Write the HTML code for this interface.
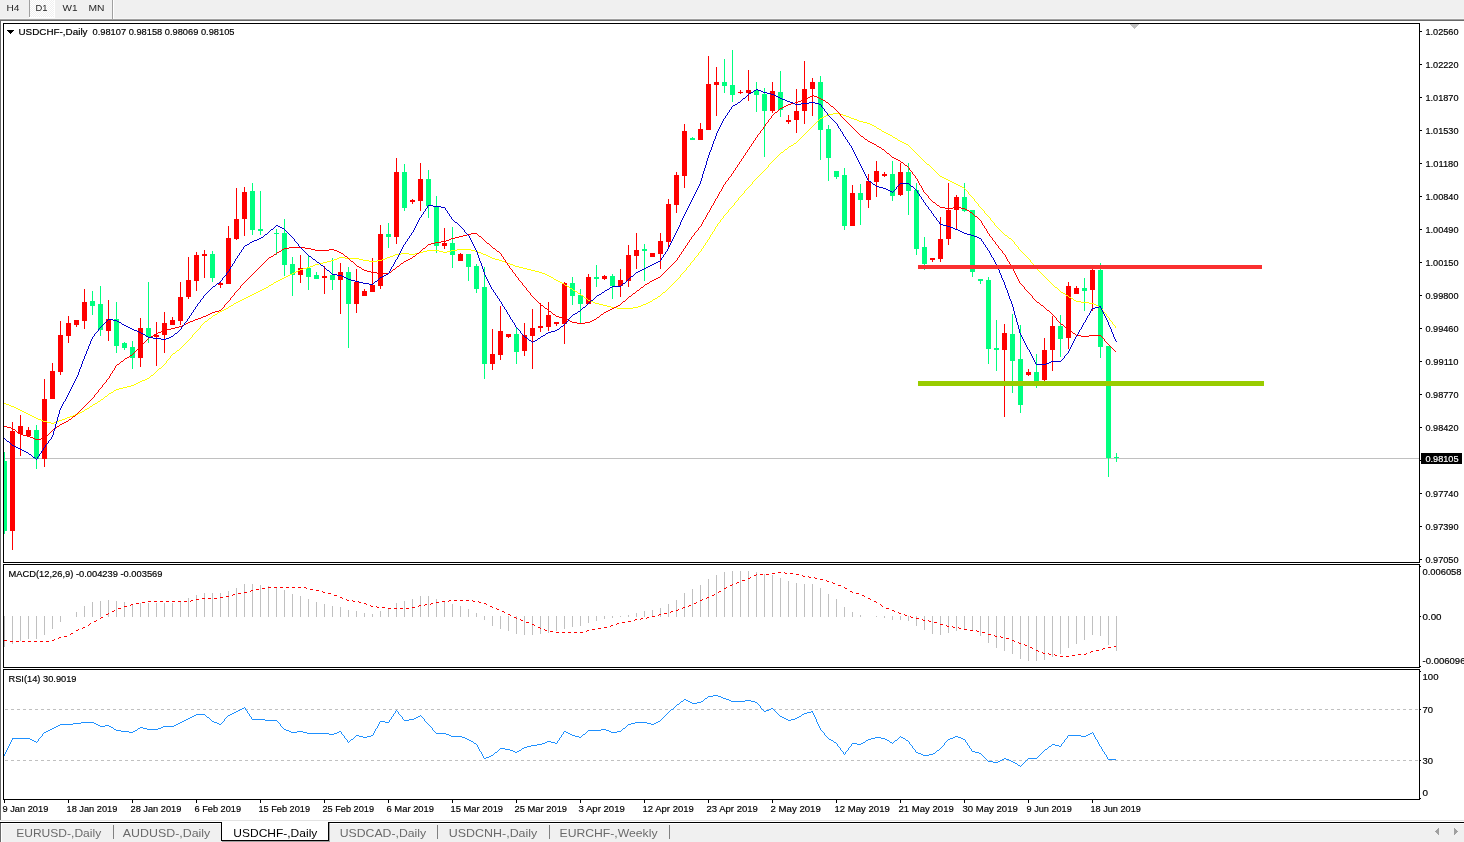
<!DOCTYPE html>
<html lang="en"><head><meta charset="utf-8"><title>USDCHF-,Daily</title>
<style>html,body{margin:0;padding:0;background:#fff;overflow:hidden}body{width:1464px;height:842px}svg{display:block}text{font-family:'Liberation Sans', sans-serif;white-space:pre}</style>
</head><body>
<svg width="1464" height="842" viewBox="0 0 1464 842" shape-rendering="crispEdges">
<rect x="0" y="0" width="1464" height="842" fill="#fff"/>
<g id="toolbar">
<rect x="0" y="0" width="1464" height="19" fill="#f0f0f0"/>
<rect x="0" y="18" width="1464" height="1" fill="#f6f6f6"/>
<rect x="0" y="19" width="1464" height="1" fill="#a0a0a0"/>
<rect x="0" y="20" width="1464" height="1" fill="#696969"/>
<defs><pattern id="chk" width="2" height="2" patternUnits="userSpaceOnUse"><rect width="2" height="2" fill="#f0f0f0"/><rect width="1" height="1" fill="#fff"/><rect x="1" y="1" width="1" height="1" fill="#fff"/></pattern></defs>
<rect x="30" y="0" width="24" height="17" fill="url(#chk)"/>
<rect x="29" y="17" width="26" height="1" fill="#fff"/>
<rect x="54" y="0" width="1" height="18" fill="#fff"/>
<rect x="29" y="0" width="1" height="17" fill="#a0a0a0"/>
<rect x="112" y="0" width="1" height="19" fill="#a0a0a0"/>
<rect x="113" y="0" width="1" height="19" fill="#fff"/>
<text x="6.5" y="11" font-size="9.4" fill="#262626" stroke="#262626" stroke-width="0" textLength="13" lengthAdjust="spacingAndGlyphs">H4</text>
<text x="35.5" y="11" font-size="9.4" fill="#262626" stroke="#262626" stroke-width="0" textLength="12" lengthAdjust="spacingAndGlyphs">D1</text>
<text x="62.5" y="11" font-size="9.4" fill="#262626" stroke="#262626" stroke-width="0" textLength="15" lengthAdjust="spacingAndGlyphs">W1</text>
<text x="88.5" y="11" font-size="9.4" fill="#262626" stroke="#262626" stroke-width="0" textLength="16" lengthAdjust="spacingAndGlyphs">MN</text>
</g>
<g id="frame">
<rect x="0" y="20" width="1" height="800" fill="#696969"/>
</g>
<g id="panes">
<rect x="3" y="23" width="1417" height="1" fill="#000"/>
<rect x="3" y="562" width="1417" height="1" fill="#000"/>
<rect x="3" y="23" width="1" height="540" fill="#000"/>
<rect x="1419" y="23" width="1" height="540" fill="#000"/>
<rect x="3" y="564" width="1417" height="1" fill="#000"/>
<rect x="3" y="667" width="1417" height="1" fill="#000"/>
<rect x="3" y="564" width="1" height="104" fill="#000"/>
<rect x="1419" y="564" width="1" height="104" fill="#000"/>
<rect x="3" y="669" width="1417" height="1" fill="#000"/>
<rect x="3" y="799" width="1417" height="1" fill="#000"/>
<rect x="3" y="669" width="1" height="131" fill="#000"/>
<rect x="1419" y="669" width="1" height="131" fill="#000"/>
</g>
<defs><clipPath id="cm"><rect x="4" y="24" width="1415" height="538"/></clipPath><clipPath id="c2"><rect x="4" y="565" width="1415" height="102"/></clipPath><clipPath id="c3"><rect x="4" y="670" width="1415" height="129"/></clipPath></defs>
<g id="main" clip-path="url(#cm)">
<rect x="4" y="458" width="1415" height="1" fill="#c0c0c0"/>
<polygon points="1129,24 1139,24 1134,29" fill="#c0c0c0"/>
<rect x="4" y="452" width="1" height="82" fill="#00ff7f"/>
<rect x="2" y="461" width="5" height="70" fill="#00ff7f"/>
<rect x="12" y="422" width="1" height="128" fill="#ff0000"/>
<rect x="10" y="431" width="5" height="100" fill="#ff0000"/>
<rect x="20" y="415" width="1" height="41" fill="#ff0000"/>
<rect x="18" y="426" width="5" height="8" fill="#ff0000"/>
<rect x="28" y="427" width="1" height="10" fill="#ff0000"/>
<rect x="26" y="430" width="5" height="6" fill="#ff0000"/>
<rect x="36" y="425" width="1" height="44" fill="#00ff7f"/>
<rect x="34" y="430" width="5" height="29" fill="#00ff7f"/>
<rect x="44" y="379" width="1" height="88" fill="#ff0000"/>
<rect x="42" y="399" width="5" height="60" fill="#ff0000"/>
<rect x="52" y="363" width="1" height="36" fill="#ff0000"/>
<rect x="50" y="371" width="5" height="28" fill="#ff0000"/>
<rect x="60" y="321" width="1" height="54" fill="#ff0000"/>
<rect x="58" y="335" width="5" height="37" fill="#ff0000"/>
<rect x="68" y="316" width="1" height="27" fill="#ff0000"/>
<rect x="66" y="323" width="5" height="13" fill="#ff0000"/>
<rect x="76" y="320" width="1" height="7" fill="#ff0000"/>
<rect x="74" y="320" width="5" height="5" fill="#ff0000"/>
<rect x="84" y="289" width="1" height="40" fill="#ff0000"/>
<rect x="82" y="302" width="5" height="19" fill="#ff0000"/>
<rect x="92" y="291" width="1" height="24" fill="#00ff7f"/>
<rect x="90" y="301" width="5" height="5" fill="#00ff7f"/>
<rect x="100" y="286" width="1" height="50" fill="#00ff7f"/>
<rect x="98" y="304" width="5" height="26" fill="#00ff7f"/>
<rect x="108" y="300" width="1" height="41" fill="#ff0000"/>
<rect x="106" y="319" width="5" height="12" fill="#ff0000"/>
<rect x="116" y="302" width="1" height="51" fill="#00ff7f"/>
<rect x="114" y="319" width="5" height="27" fill="#00ff7f"/>
<rect x="124" y="342" width="1" height="8" fill="#00ff7f"/>
<rect x="122" y="343" width="5" height="5" fill="#00ff7f"/>
<rect x="132" y="341" width="1" height="28" fill="#00ff7f"/>
<rect x="130" y="347" width="5" height="11" fill="#00ff7f"/>
<rect x="140" y="318" width="1" height="49" fill="#ff0000"/>
<rect x="138" y="328" width="5" height="30" fill="#ff0000"/>
<rect x="148" y="282" width="1" height="61" fill="#00ff7f"/>
<rect x="146" y="328" width="5" height="9" fill="#00ff7f"/>
<rect x="156" y="322" width="1" height="44" fill="#ff0000"/>
<rect x="154" y="335" width="5" height="2" fill="#ff0000"/>
<rect x="164" y="312" width="1" height="41" fill="#ff0000"/>
<rect x="162" y="323" width="5" height="12" fill="#ff0000"/>
<rect x="172" y="317" width="1" height="8" fill="#ff0000"/>
<rect x="170" y="320" width="5" height="5" fill="#ff0000"/>
<rect x="180" y="282" width="1" height="43" fill="#ff0000"/>
<rect x="178" y="297" width="5" height="24" fill="#ff0000"/>
<rect x="188" y="257" width="1" height="42" fill="#ff0000"/>
<rect x="186" y="280" width="5" height="17" fill="#ff0000"/>
<rect x="196" y="252" width="1" height="39" fill="#ff0000"/>
<rect x="194" y="255" width="5" height="26" fill="#ff0000"/>
<rect x="204" y="250" width="1" height="28" fill="#ff0000"/>
<rect x="202" y="254" width="5" height="2" fill="#ff0000"/>
<rect x="212" y="251" width="1" height="31" fill="#00ff7f"/>
<rect x="210" y="254" width="5" height="24" fill="#00ff7f"/>
<rect x="220" y="281" width="1" height="7" fill="#ff0000"/>
<rect x="218" y="283" width="5" height="2" fill="#ff0000"/>
<rect x="228" y="226" width="1" height="58" fill="#ff0000"/>
<rect x="226" y="238" width="5" height="46" fill="#ff0000"/>
<rect x="236" y="188" width="1" height="52" fill="#ff0000"/>
<rect x="234" y="219" width="5" height="20" fill="#ff0000"/>
<rect x="244" y="187" width="1" height="49" fill="#ff0000"/>
<rect x="242" y="192" width="5" height="27" fill="#ff0000"/>
<rect x="252" y="183" width="1" height="52" fill="#00ff7f"/>
<rect x="250" y="191" width="5" height="39" fill="#00ff7f"/>
<rect x="260" y="191" width="1" height="44" fill="#00ff7f"/>
<rect x="258" y="229" width="5" height="2" fill="#00ff7f"/>
<rect x="276" y="229" width="1" height="26" fill="#00ff7f"/>
<rect x="274" y="233" width="5" height="1" fill="#00ff7f"/>
<rect x="284" y="219" width="1" height="57" fill="#00ff7f"/>
<rect x="282" y="233" width="5" height="32" fill="#00ff7f"/>
<rect x="292" y="257" width="1" height="39" fill="#00ff7f"/>
<rect x="290" y="264" width="5" height="11" fill="#00ff7f"/>
<rect x="300" y="255" width="1" height="28" fill="#ff0000"/>
<rect x="298" y="268" width="5" height="7" fill="#ff0000"/>
<rect x="308" y="255" width="1" height="35" fill="#00ff7f"/>
<rect x="306" y="268" width="5" height="9" fill="#00ff7f"/>
<rect x="316" y="272" width="1" height="7" fill="#00ff7f"/>
<rect x="314" y="275" width="5" height="4" fill="#00ff7f"/>
<rect x="324" y="266" width="1" height="28" fill="#ff0000"/>
<rect x="322" y="276" width="5" height="2" fill="#ff0000"/>
<rect x="332" y="258" width="1" height="32" fill="#00ff7f"/>
<rect x="330" y="275" width="5" height="5" fill="#00ff7f"/>
<rect x="340" y="263" width="1" height="51" fill="#ff0000"/>
<rect x="338" y="272" width="5" height="8" fill="#ff0000"/>
<rect x="348" y="267" width="1" height="81" fill="#00ff7f"/>
<rect x="346" y="272" width="5" height="32" fill="#00ff7f"/>
<rect x="356" y="269" width="1" height="44" fill="#ff0000"/>
<rect x="354" y="282" width="5" height="22" fill="#ff0000"/>
<rect x="364" y="289" width="1" height="7" fill="#ff0000"/>
<rect x="362" y="291" width="5" height="5" fill="#ff0000"/>
<rect x="372" y="258" width="1" height="34" fill="#ff0000"/>
<rect x="370" y="285" width="5" height="7" fill="#ff0000"/>
<rect x="380" y="225" width="1" height="64" fill="#ff0000"/>
<rect x="378" y="234" width="5" height="52" fill="#ff0000"/>
<rect x="388" y="223" width="1" height="25" fill="#00ff7f"/>
<rect x="386" y="234" width="5" height="3" fill="#00ff7f"/>
<rect x="396" y="158" width="1" height="86" fill="#ff0000"/>
<rect x="394" y="172" width="5" height="65" fill="#ff0000"/>
<rect x="404" y="164" width="1" height="47" fill="#00ff7f"/>
<rect x="402" y="172" width="5" height="36" fill="#00ff7f"/>
<rect x="412" y="199" width="1" height="5" fill="#ff0000"/>
<rect x="410" y="200" width="5" height="2" fill="#ff0000"/>
<rect x="420" y="163" width="1" height="48" fill="#ff0000"/>
<rect x="418" y="179" width="5" height="22" fill="#ff0000"/>
<rect x="428" y="170" width="1" height="48" fill="#00ff7f"/>
<rect x="426" y="179" width="5" height="27" fill="#00ff7f"/>
<rect x="436" y="196" width="1" height="57" fill="#00ff7f"/>
<rect x="434" y="206" width="5" height="40" fill="#00ff7f"/>
<rect x="444" y="228" width="1" height="21" fill="#ff0000"/>
<rect x="442" y="243" width="5" height="3" fill="#ff0000"/>
<rect x="452" y="227" width="1" height="41" fill="#00ff7f"/>
<rect x="450" y="243" width="5" height="12" fill="#00ff7f"/>
<rect x="460" y="253" width="1" height="8" fill="#ff0000"/>
<rect x="458" y="254" width="5" height="7" fill="#ff0000"/>
<rect x="468" y="254" width="1" height="27" fill="#00ff7f"/>
<rect x="466" y="254" width="5" height="13" fill="#00ff7f"/>
<rect x="476" y="264" width="1" height="29" fill="#00ff7f"/>
<rect x="474" y="266" width="5" height="23" fill="#00ff7f"/>
<rect x="484" y="267" width="1" height="112" fill="#00ff7f"/>
<rect x="482" y="287" width="5" height="77" fill="#00ff7f"/>
<rect x="492" y="329" width="1" height="41" fill="#ff0000"/>
<rect x="490" y="354" width="5" height="10" fill="#ff0000"/>
<rect x="500" y="306" width="1" height="54" fill="#ff0000"/>
<rect x="498" y="331" width="5" height="24" fill="#ff0000"/>
<rect x="508" y="334" width="1" height="4" fill="#ff0000"/>
<rect x="506" y="334" width="5" height="3" fill="#ff0000"/>
<rect x="516" y="327" width="1" height="37" fill="#00ff7f"/>
<rect x="514" y="334" width="5" height="18" fill="#00ff7f"/>
<rect x="524" y="323" width="1" height="33" fill="#ff0000"/>
<rect x="522" y="335" width="5" height="16" fill="#ff0000"/>
<rect x="532" y="309" width="1" height="60" fill="#ff0000"/>
<rect x="530" y="328" width="5" height="8" fill="#ff0000"/>
<rect x="540" y="303" width="1" height="29" fill="#ff0000"/>
<rect x="538" y="326" width="5" height="2" fill="#ff0000"/>
<rect x="548" y="302" width="1" height="29" fill="#ff0000"/>
<rect x="546" y="315" width="5" height="12" fill="#ff0000"/>
<rect x="556" y="322" width="1" height="4" fill="#ff0000"/>
<rect x="554" y="322" width="5" height="2" fill="#ff0000"/>
<rect x="564" y="282" width="1" height="62" fill="#ff0000"/>
<rect x="562" y="283" width="5" height="41" fill="#ff0000"/>
<rect x="572" y="277" width="1" height="28" fill="#00ff7f"/>
<rect x="570" y="283" width="5" height="13" fill="#00ff7f"/>
<rect x="580" y="289" width="1" height="34" fill="#00ff7f"/>
<rect x="578" y="295" width="5" height="9" fill="#00ff7f"/>
<rect x="588" y="274" width="1" height="30" fill="#ff0000"/>
<rect x="586" y="277" width="5" height="27" fill="#ff0000"/>
<rect x="596" y="265" width="1" height="22" fill="#00ff7f"/>
<rect x="594" y="277" width="5" height="2" fill="#00ff7f"/>
<rect x="604" y="275" width="1" height="5" fill="#ff0000"/>
<rect x="602" y="276" width="5" height="3" fill="#ff0000"/>
<rect x="612" y="274" width="1" height="25" fill="#00ff7f"/>
<rect x="610" y="276" width="5" height="10" fill="#00ff7f"/>
<rect x="620" y="269" width="1" height="28" fill="#ff0000"/>
<rect x="618" y="280" width="5" height="6" fill="#ff0000"/>
<rect x="628" y="245" width="1" height="42" fill="#ff0000"/>
<rect x="626" y="255" width="5" height="26" fill="#ff0000"/>
<rect x="636" y="233" width="1" height="36" fill="#ff0000"/>
<rect x="634" y="250" width="5" height="6" fill="#ff0000"/>
<rect x="644" y="244" width="1" height="37" fill="#00ff7f"/>
<rect x="642" y="249" width="5" height="2" fill="#00ff7f"/>
<rect x="652" y="253" width="1" height="4" fill="#ff0000"/>
<rect x="650" y="253" width="5" height="4" fill="#ff0000"/>
<rect x="660" y="233" width="1" height="36" fill="#ff0000"/>
<rect x="658" y="241" width="5" height="13" fill="#ff0000"/>
<rect x="668" y="199" width="1" height="48" fill="#ff0000"/>
<rect x="666" y="204" width="5" height="38" fill="#ff0000"/>
<rect x="676" y="172" width="1" height="41" fill="#ff0000"/>
<rect x="674" y="175" width="5" height="30" fill="#ff0000"/>
<rect x="684" y="124" width="1" height="64" fill="#ff0000"/>
<rect x="682" y="131" width="5" height="45" fill="#ff0000"/>
<rect x="692" y="137" width="1" height="3" fill="#00ff7f"/>
<rect x="690" y="138" width="5" height="2" fill="#00ff7f"/>
<rect x="700" y="123" width="1" height="17" fill="#ff0000"/>
<rect x="698" y="129" width="5" height="11" fill="#ff0000"/>
<rect x="708" y="56" width="1" height="74" fill="#ff0000"/>
<rect x="706" y="84" width="5" height="46" fill="#ff0000"/>
<rect x="716" y="67" width="1" height="49" fill="#ff0000"/>
<rect x="714" y="82" width="5" height="3" fill="#ff0000"/>
<rect x="724" y="59" width="1" height="34" fill="#00ff7f"/>
<rect x="722" y="82" width="5" height="4" fill="#00ff7f"/>
<rect x="732" y="50" width="1" height="52" fill="#00ff7f"/>
<rect x="730" y="85" width="5" height="10" fill="#00ff7f"/>
<rect x="740" y="90" width="1" height="4" fill="#ff0000"/>
<rect x="738" y="92" width="5" height="1" fill="#ff0000"/>
<rect x="748" y="70" width="1" height="31" fill="#ff0000"/>
<rect x="746" y="90" width="5" height="3" fill="#ff0000"/>
<rect x="756" y="82" width="1" height="30" fill="#00ff7f"/>
<rect x="754" y="90" width="5" height="5" fill="#00ff7f"/>
<rect x="764" y="88" width="1" height="69" fill="#00ff7f"/>
<rect x="762" y="94" width="5" height="17" fill="#00ff7f"/>
<rect x="772" y="82" width="1" height="31" fill="#ff0000"/>
<rect x="770" y="91" width="5" height="20" fill="#ff0000"/>
<rect x="780" y="71" width="1" height="46" fill="#00ff7f"/>
<rect x="778" y="92" width="5" height="18" fill="#00ff7f"/>
<rect x="788" y="115" width="1" height="9" fill="#ff0000"/>
<rect x="786" y="120" width="5" height="2" fill="#ff0000"/>
<rect x="796" y="89" width="1" height="44" fill="#ff0000"/>
<rect x="794" y="111" width="5" height="9" fill="#ff0000"/>
<rect x="804" y="61" width="1" height="63" fill="#ff0000"/>
<rect x="802" y="89" width="5" height="22" fill="#ff0000"/>
<rect x="812" y="78" width="1" height="38" fill="#ff0000"/>
<rect x="810" y="82" width="5" height="7" fill="#ff0000"/>
<rect x="820" y="76" width="1" height="84" fill="#00ff7f"/>
<rect x="818" y="82" width="5" height="48" fill="#00ff7f"/>
<rect x="828" y="125" width="1" height="56" fill="#00ff7f"/>
<rect x="826" y="129" width="5" height="29" fill="#00ff7f"/>
<rect x="836" y="171" width="1" height="8" fill="#00ff7f"/>
<rect x="834" y="171" width="5" height="6" fill="#00ff7f"/>
<rect x="844" y="168" width="1" height="62" fill="#00ff7f"/>
<rect x="842" y="175" width="5" height="51" fill="#00ff7f"/>
<rect x="852" y="185" width="1" height="41" fill="#ff0000"/>
<rect x="850" y="193" width="5" height="33" fill="#ff0000"/>
<rect x="860" y="184" width="1" height="41" fill="#00ff7f"/>
<rect x="858" y="193" width="5" height="7" fill="#00ff7f"/>
<rect x="868" y="174" width="1" height="34" fill="#ff0000"/>
<rect x="866" y="181" width="5" height="19" fill="#ff0000"/>
<rect x="876" y="161" width="1" height="36" fill="#ff0000"/>
<rect x="874" y="171" width="5" height="11" fill="#ff0000"/>
<rect x="884" y="172" width="1" height="5" fill="#ff0000"/>
<rect x="882" y="174" width="5" height="2" fill="#ff0000"/>
<rect x="892" y="161" width="1" height="40" fill="#00ff7f"/>
<rect x="890" y="174" width="5" height="22" fill="#00ff7f"/>
<rect x="900" y="163" width="1" height="33" fill="#ff0000"/>
<rect x="898" y="172" width="5" height="23" fill="#ff0000"/>
<rect x="908" y="163" width="1" height="52" fill="#00ff7f"/>
<rect x="906" y="172" width="5" height="19" fill="#00ff7f"/>
<rect x="916" y="183" width="1" height="72" fill="#00ff7f"/>
<rect x="914" y="190" width="5" height="59" fill="#00ff7f"/>
<rect x="924" y="237" width="1" height="33" fill="#00ff7f"/>
<rect x="922" y="247" width="5" height="17" fill="#00ff7f"/>
<rect x="932" y="258" width="1" height="4" fill="#ff0000"/>
<rect x="930" y="258" width="5" height="2" fill="#ff0000"/>
<rect x="940" y="217" width="1" height="45" fill="#ff0000"/>
<rect x="938" y="239" width="5" height="20" fill="#ff0000"/>
<rect x="948" y="183" width="1" height="62" fill="#ff0000"/>
<rect x="946" y="210" width="5" height="29" fill="#ff0000"/>
<rect x="956" y="195" width="1" height="34" fill="#ff0000"/>
<rect x="954" y="197" width="5" height="13" fill="#ff0000"/>
<rect x="964" y="183" width="1" height="29" fill="#00ff7f"/>
<rect x="962" y="197" width="5" height="14" fill="#00ff7f"/>
<rect x="972" y="210" width="1" height="67" fill="#00ff7f"/>
<rect x="970" y="210" width="5" height="62" fill="#00ff7f"/>
<rect x="980" y="279" width="1" height="5" fill="#00ff7f"/>
<rect x="978" y="279" width="5" height="2" fill="#00ff7f"/>
<rect x="988" y="277" width="1" height="87" fill="#00ff7f"/>
<rect x="986" y="280" width="5" height="69" fill="#00ff7f"/>
<rect x="996" y="320" width="1" height="51" fill="#00ff7f"/>
<rect x="994" y="348" width="5" height="2" fill="#00ff7f"/>
<rect x="1004" y="324" width="1" height="93" fill="#ff0000"/>
<rect x="1002" y="333" width="5" height="17" fill="#ff0000"/>
<rect x="1012" y="314" width="1" height="79" fill="#00ff7f"/>
<rect x="1010" y="334" width="5" height="27" fill="#00ff7f"/>
<rect x="1020" y="325" width="1" height="88" fill="#00ff7f"/>
<rect x="1018" y="359" width="5" height="46" fill="#00ff7f"/>
<rect x="1028" y="369" width="1" height="7" fill="#ff0000"/>
<rect x="1026" y="372" width="5" height="3" fill="#ff0000"/>
<rect x="1036" y="354" width="1" height="34" fill="#00ff7f"/>
<rect x="1034" y="372" width="5" height="12" fill="#00ff7f"/>
<rect x="1044" y="338" width="1" height="43" fill="#ff0000"/>
<rect x="1042" y="350" width="5" height="30" fill="#ff0000"/>
<rect x="1052" y="316" width="1" height="55" fill="#ff0000"/>
<rect x="1050" y="326" width="5" height="24" fill="#ff0000"/>
<rect x="1060" y="315" width="1" height="42" fill="#00ff7f"/>
<rect x="1058" y="326" width="5" height="13" fill="#00ff7f"/>
<rect x="1068" y="282" width="1" height="67" fill="#ff0000"/>
<rect x="1066" y="286" width="5" height="52" fill="#ff0000"/>
<rect x="1076" y="286" width="1" height="8" fill="#ff0000"/>
<rect x="1074" y="288" width="5" height="6" fill="#ff0000"/>
<rect x="1084" y="278" width="1" height="33" fill="#00ff7f"/>
<rect x="1082" y="288" width="5" height="3" fill="#00ff7f"/>
<rect x="1092" y="266" width="1" height="45" fill="#ff0000"/>
<rect x="1090" y="270" width="5" height="20" fill="#ff0000"/>
<rect x="1100" y="263" width="1" height="95" fill="#00ff7f"/>
<rect x="1098" y="270" width="5" height="77" fill="#00ff7f"/>
<rect x="1108" y="346" width="1" height="131" fill="#00ff7f"/>
<rect x="1106" y="346" width="5" height="112" fill="#00ff7f"/>
<rect x="1116" y="453" width="1" height="9" fill="#00ff7f"/>
<rect x="1114" y="457" width="5" height="1" fill="#00ff7f"/>
<path d="M833 113.5h6M828 114.5h5M839 114.5h4M826 115.5h2M843 115.5h3M824 116.5h2M846 116.5h3M822 117.5h2M849 117.5h2M820 118.5h2M851 118.5h3M854 119.5h3M857 120.5h2M859 121.5h4M863 122.5h4M867 123.5h3M870 124.5h2M872 125.5h2M874 126.5h2M877 128.5h2M879 129.5h2M882 131.5h2M884 132.5h2M886 133.5h2M888 134.5h2M890 135.5h2M893 137.5h2M895 138.5h2M898 140.5h2M900 141.5h2M902 142.5h2M794 143.5h2M904 143.5h2M906 144.5h2M791 145.5h2M789 146.5h2M785 149.5h2M781 152.5h2M927 164.5h2M940 176.5h2M942 177.5h2M944 178.5h2M946 179.5h2M948 180.5h2M950 181.5h2M952 182.5h2M954 183.5h2M956 184.5h2M958 185.5h2M960 186.5h2M962 187.5h2M1005 235.5h2M1009 238.5h2M457 249.5h14M427 250.5h12M451 250.5h6M471 250.5h4M423 251.5h4M439 251.5h4M447 251.5h4M475 251.5h3M419 252.5h4M443 252.5h4M478 252.5h3M401 253.5h8M415 253.5h4M481 253.5h2M395 254.5h6M409 254.5h6M483 254.5h3M393 255.5h2M486 255.5h2M390 256.5h3M488 256.5h2M339 257.5h6M387 257.5h3M490 257.5h2M337 258.5h2M345 258.5h14M385 258.5h2M492 258.5h3M334 259.5h3M359 259.5h4M382 259.5h3M495 259.5h4M331 260.5h3M363 260.5h6M377 260.5h5M499 260.5h3M327 261.5h4M369 261.5h8M502 261.5h3M323 262.5h4M505 262.5h2M319 263.5h4M507 263.5h3M315 264.5h4M510 264.5h3M313 265.5h2M513 265.5h2M310 266.5h3M515 266.5h4M307 267.5h3M519 267.5h4M303 268.5h4M523 268.5h4M300 269.5h3M527 269.5h4M298 270.5h2M531 270.5h4M296 271.5h2M535 271.5h4M294 272.5h2M539 272.5h3M292 273.5h2M542 273.5h3M290 274.5h2M545 274.5h2M288 275.5h2M547 275.5h2M286 276.5h2M549 276.5h2M284 277.5h2M551 277.5h2M282 278.5h2M280 279.5h2M554 279.5h2M278 280.5h2M556 280.5h2M276 281.5h2M558 281.5h2M274 282.5h2M560 282.5h2M562 283.5h2M271 284.5h2M269 285.5h2M565 285.5h2M567 286.5h2M266 287.5h2M1055 287.5h2M264 288.5h2M570 288.5h2M262 289.5h2M260 290.5h2M573 290.5h2M258 291.5h2M575 291.5h2M256 292.5h2M663 292.5h2M1061 292.5h2M254 293.5h2M578 293.5h2M1063 293.5h2M252 294.5h2M250 295.5h2M581 295.5h2M1066 295.5h2M248 296.5h2M658 296.5h2M246 297.5h2M1069 297.5h2M244 298.5h2M585 298.5h2M655 298.5h2M1071 298.5h2M242 299.5h2M653 299.5h2M240 300.5h2M588 300.5h2M1074 300.5h2M238 301.5h2M590 301.5h3M650 301.5h2M1076 301.5h5M236 302.5h2M593 302.5h2M648 302.5h2M1081 302.5h8M234 303.5h2M595 303.5h4M646 303.5h2M1089 303.5h5M599 304.5h4M643 304.5h3M1094 304.5h2M231 305.5h2M603 305.5h4M641 305.5h2M1096 305.5h2M229 306.5h2M607 306.5h4M638 306.5h3M1098 306.5h2M611 307.5h6M633 307.5h5M226 308.5h2M617 308.5h16M224 309.5h2M222 310.5h2M220 311.5h2M218 312.5h2M215 314.5h2M213 315.5h2M209 318.5h2M205 321.5h2M177 350.5h2M173 353.5h2M159 368.5h2M151 375.5h2M147 378.5h2M145 379.5h2M142 380.5h3M140 381.5h2M138 382.5h2M136 383.5h2M134 384.5h2M131 385.5h3M127 386.5h4M123 387.5h4M119 388.5h4M116 389.5h3M114 390.5h2M111 392.5h2M109 393.5h2M105 396.5h2M101 399.5h2M98 401.5h2M4 403.5h2M95 403.5h2M6 404.5h3M93 404.5h2M9 405.5h2M11 406.5h3M90 406.5h2M14 407.5h2M16 408.5h2M87 408.5h2M18 409.5h2M85 409.5h2M20 410.5h2M22 411.5h2M82 411.5h2M24 412.5h2M80 412.5h2M26 413.5h2M78 413.5h2M28 414.5h2M75 414.5h3M30 415.5h2M73 415.5h2M32 416.5h2M70 416.5h3M34 417.5h2M67 417.5h3M36 418.5h2M65 418.5h2M38 419.5h3M62 419.5h3M41 420.5h2M59 420.5h3M43 421.5h4M57 421.5h2M47 422.5h4M54 422.5h3M51 423.5h3M84.5 410v1M89.5 407v1M92.5 405v1M97.5 402v1M100.5 400v1M103.5 398v1M104.5 397v1M107.5 395v1M108.5 394v1M113.5 391v1M149.5 377v1M150.5 376v1M153.5 374v1M154.5 373v1M155.5 372v1M156.5 371v1M157.5 370v1M158.5 369v1M161.5 367v1M162.5 366v1M163.5 365v1M164.5 364v1M165.5 363v1M166.5 361v2M167.5 360v1M168.5 359v1M169.5 358v1M170.5 356v2M171.5 355v1M172.5 354v1M175.5 352v1M176.5 351v1M179.5 349v1M180.5 348v1M181.5 347v1M182.5 346v1M183.5 345v1M184.5 344v1M185.5 343v1M186.5 342v1M187.5 341v1M188.5 340v1M189.5 339v1M190.5 338v1M191.5 337v1M192.5 335v2M193.5 334v1M194.5 333v1M195.5 332v1M196.5 331v1M197.5 330v1M198.5 329v1M199.5 328v1M200.5 326v2M201.5 325v1M202.5 324v1M203.5 323v1M204.5 322v1M207.5 320v1M208.5 319v1M211.5 317v1M212.5 316v1M217.5 313v1M228.5 307v1M233.5 304v1M268.5 286v1M273.5 283v1M553.5 278v1M564.5 284v1M569.5 287v1M572.5 289v1M577.5 292v1M580.5 294v1M583.5 296v1M584.5 297v1M587.5 299v1M652.5 300v1M657.5 297v1M660.5 295v1M661.5 294v1M662.5 293v1M665.5 291v1M666.5 290v1M667.5 289v1M668.5 288v1M669.5 287v1M670.5 286v1M671.5 285v1M672.5 284v1M673.5 283v1M674.5 282v1M675.5 281v1M676.5 280v1M677.5 279v1M678.5 278v1M679.5 277v1M680.5 275v2M681.5 274v1M682.5 273v1M683.5 272v1M684.5 271v1M685.5 270v1M686.5 268v2M687.5 267v1M688.5 266v1M689.5 265v1M690.5 263v2M691.5 262v1M692.5 261v1M693.5 260v1M694.5 258v2M695.5 257v1M696.5 256v1M697.5 255v1M698.5 253v2M699.5 252v1M700.5 251v1M701.5 249v2M702.5 248v1M703.5 246v2M704.5 245v1M705.5 243v2M706.5 242v1M707.5 240v2M708.5 239v1M709.5 237v2M710.5 235v2M711.5 234v1M712.5 232v2M713.5 231v1M714.5 229v2M715.5 227v2M716.5 226v1M717.5 224v2M718.5 223v1M719.5 222v1M720.5 220v2M721.5 219v1M722.5 218v1M723.5 216v2M724.5 215v1M725.5 214v1M726.5 213v1M727.5 212v1M728.5 210v2M729.5 209v1M730.5 208v1M731.5 207v1M732.5 206v1M733.5 205v1M734.5 203v2M735.5 202v1M736.5 201v1M737.5 200v1M738.5 198v2M739.5 197v1M740.5 196v1M741.5 195v1M742.5 194v1M743.5 193v1M744.5 191v2M745.5 190v1M746.5 189v1M747.5 188v1M748.5 187v1M749.5 186v1M750.5 185v1M751.5 184v1M752.5 182v2M753.5 181v1M754.5 180v1M755.5 179v1M756.5 178v1M757.5 177v1M758.5 176v1M759.5 175v1M760.5 174v1M761.5 173v1M762.5 172v1M763.5 171v1M764.5 170v1M765.5 169v1M766.5 168v1M767.5 167v1M768.5 165v2M769.5 164v1M770.5 163v1M771.5 162v1M772.5 161v1M773.5 160v1M774.5 159v1M775.5 158v1M776.5 157v1M777.5 156v1M778.5 155v1M779.5 154v1M780.5 153v1M783.5 151v1M784.5 150v1M787.5 148v1M788.5 147v1M793.5 144v1M796.5 142v1M797.5 141v1M798.5 140v1M799.5 139v1M800.5 138v1M801.5 137v1M802.5 136v1M803.5 135v1M804.5 134v1M805.5 133v1M806.5 132v1M807.5 131v1M808.5 130v1M809.5 129v1M810.5 128v1M811.5 127v1M812.5 126v1M813.5 125v1M814.5 124v1M815.5 123v1M816.5 122v1M817.5 121v1M818.5 120v1M819.5 119v1M876.5 127v1M881.5 130v1M892.5 136v1M897.5 139v1M908.5 145v1M909.5 146v1M910.5 147v1M911.5 148v1M912.5 149v1M913.5 150v1M914.5 151v1M915.5 152v1M916.5 153v1M917.5 154v1M918.5 155v1M919.5 156v1M920.5 157v1M921.5 158v1M922.5 159v1M923.5 160v1M924.5 161v1M925.5 162v1M926.5 163v1M929.5 165v1M930.5 166v1M931.5 167v1M932.5 168v1M933.5 169v1M934.5 170v1M935.5 171v1M936.5 172v1M937.5 173v1M938.5 174v1M939.5 175v1M964.5 188v1M965.5 189v1M966.5 190v1M967.5 191v1M968.5 192v2M969.5 194v1M970.5 195v1M971.5 196v1M972.5 197v1M973.5 198v1M974.5 199v2M975.5 201v1M976.5 202v1M977.5 203v1M978.5 204v2M979.5 206v1M980.5 207v1M981.5 208v1M982.5 209v1M983.5 210v1M984.5 211v2M985.5 213v1M986.5 214v1M987.5 215v1M988.5 216v1M989.5 217v1M990.5 218v2M991.5 220v1M992.5 221v1M993.5 222v1M994.5 223v2M995.5 225v1M996.5 226v1M997.5 227v1M998.5 228v1M999.5 229v1M1000.5 230v1M1001.5 231v1M1002.5 232v1M1003.5 233v1M1004.5 234v1M1007.5 236v1M1008.5 237v1M1011.5 239v1M1012.5 240v1M1013.5 241v1M1014.5 242v2M1015.5 244v1M1016.5 245v1M1017.5 246v1M1018.5 247v2M1019.5 249v1M1020.5 250v1M1021.5 251v1M1022.5 252v1M1023.5 253v1M1024.5 254v1M1025.5 255v1M1026.5 256v1M1027.5 257v1M1028.5 258v1M1029.5 259v1M1030.5 260v2M1031.5 262v1M1032.5 263v1M1033.5 264v1M1034.5 265v2M1035.5 267v1M1036.5 268v1M1037.5 269v1M1038.5 270v1M1039.5 271v1M1040.5 272v1M1041.5 273v1M1042.5 274v1M1043.5 275v1M1044.5 276v1M1045.5 277v1M1046.5 278v1M1047.5 279v1M1048.5 280v1M1049.5 281v1M1050.5 282v1M1051.5 283v1M1052.5 284v1M1053.5 285v1M1054.5 286v1M1057.5 288v1M1058.5 289v1M1059.5 290v1M1060.5 291v1M1065.5 294v1M1068.5 296v1M1073.5 299v1M1100.5 307v1M1101.5 308v1M1102.5 309v2M1103.5 311v1M1104.5 312v1M1105.5 313v1M1106.5 314v2M1107.5 316v1M1108.5 317v1M1109.5 318v2M1110.5 320v1M1111.5 321v1M1112.5 322v2M1113.5 324v1M1114.5 325v1M1115.5 326v2" fill="none" stroke="#ffff00" stroke-width="1"/>
<path d="M812 95.5h2M810 96.5h2M814 96.5h3M808 97.5h2M817 97.5h2M806 98.5h2M819 98.5h2M803 99.5h3M821 99.5h2M801 100.5h2M823 100.5h2M798 101.5h3M795 102.5h3M826 102.5h2M791 103.5h4M788 104.5h3M786 105.5h2M784 106.5h2M831 106.5h2M782 107.5h2M780 108.5h2M775 112.5h2M861 136.5h2M865 139.5h2M868 141.5h2M870 142.5h2M872 143.5h2M874 144.5h2M877 146.5h2M879 147.5h2M882 149.5h2M887 153.5h2M892 157.5h2M894 158.5h2M896 159.5h2M898 160.5h2M901 162.5h2M905 165.5h2M933 202.5h2M937 205.5h2M940 207.5h5M953 207.5h8M945 208.5h8M961 208.5h4M965 209.5h2M967 210.5h2M970 212.5h2M975 216.5h2M471 233.5h6M467 234.5h4M463 235.5h4M459 236.5h4M479 236.5h2M455 237.5h4M451 238.5h4M449 239.5h2M446 240.5h3M441 241.5h5M435 242.5h6M431 243.5h4M487 243.5h2M428 244.5h3M289 247.5h16M284 248.5h5M305 248.5h6M423 248.5h2M493 248.5h2M282 249.5h2M311 249.5h4M329 249.5h5M315 250.5h14M334 250.5h3M279 251.5h2M337 251.5h2M497 251.5h2M277 252.5h2M339 252.5h2M341 253.5h2M417 253.5h2M274 254.5h2M271 256.5h2M345 256.5h2M413 256.5h2M269 257.5h2M410 258.5h2M408 259.5h2M406 260.5h2M351 261.5h2M404 261.5h2M401 263.5h2M357 266.5h2M397 266.5h2M359 267.5h2M362 269.5h2M393 269.5h2M364 270.5h3M367 271.5h4M371 272.5h6M389 272.5h2M377 273.5h12M658 277.5h2M656 278.5h2M654 279.5h2M652 280.5h2M650 281.5h2M647 283.5h2M645 284.5h2M641 287.5h2M637 290.5h2M633 293.5h2M629 296.5h2M623 301.5h2M1037 302.5h2M541 305.5h2M618 305.5h2M1041 305.5h2M616 306.5h2M614 307.5h2M545 308.5h2M612 308.5h2M610 309.5h2M219 310.5h2M608 310.5h2M1047 310.5h2M215 311.5h4M549 311.5h2M606 311.5h2M212 312.5h3M604 312.5h2M210 313.5h2M208 314.5h2M553 314.5h2M601 314.5h2M206 315.5h2M203 316.5h3M556 316.5h3M201 317.5h2M559 317.5h4M597 317.5h2M198 318.5h3M563 318.5h3M195 319.5h3M566 319.5h2M594 319.5h2M193 320.5h2M568 320.5h2M592 320.5h2M190 321.5h3M570 321.5h2M590 321.5h2M188 322.5h2M572 322.5h5M585 322.5h5M186 323.5h2M577 323.5h8M184 324.5h2M1061 324.5h2M182 325.5h2M179 326.5h3M175 327.5h4M1065 327.5h2M171 328.5h4M167 329.5h4M163 330.5h4M1069 330.5h2M161 331.5h2M158 332.5h3M156 333.5h2M1073 333.5h2M154 334.5h2M1076 335.5h5M1089 335.5h12M151 336.5h2M1081 336.5h8M149 337.5h2M130 355.5h2M127 357.5h2M125 358.5h2M121 361.5h2M117 364.5h2M73 416.5h2M69 419.5h2M66 421.5h2M64 422.5h2M62 423.5h2M60 424.5h2M4 426.5h3M57 426.5h2M7 427.5h4M11 428.5h2M13 429.5h2M53 429.5h2M17 432.5h2M20 434.5h3M23 435.5h4M27 436.5h3M30 437.5h3M33 438.5h2M41 438.5h4M35 439.5h6M15.5 430v1M16.5 431v1M19.5 433v1M45.5 437v1M46.5 436v1M47.5 435v1M48.5 434v1M49.5 433v1M50.5 432v1M51.5 431v1M52.5 430v1M55.5 428v1M56.5 427v1M59.5 425v1M68.5 420v1M71.5 418v1M72.5 417v1M75.5 415v1M76.5 414v1M77.5 413v1M78.5 412v1M79.5 411v1M80.5 410v1M81.5 409v1M82.5 408v1M83.5 407v1M84.5 406v1M85.5 405v1M86.5 404v1M87.5 403v1M88.5 402v1M89.5 401v1M90.5 400v1M91.5 399v1M92.5 398v1M93.5 397v1M94.5 395v2M95.5 394v1M96.5 393v1M97.5 392v1M98.5 390v2M99.5 389v1M100.5 388v1M101.5 387v1M102.5 385v2M103.5 384v1M104.5 383v1M105.5 382v1M106.5 380v2M107.5 379v1M108.5 378v1M109.5 376v2M110.5 374v2M111.5 373v1M112.5 371v2M113.5 370v1M114.5 368v2M115.5 366v2M116.5 365v1M119.5 363v1M120.5 362v1M123.5 360v1M124.5 359v1M129.5 356v1M132.5 354v1M133.5 353v1M134.5 352v1M135.5 351v1M136.5 350v1M137.5 349v1M138.5 348v1M139.5 347v1M140.5 346v1M141.5 345v1M142.5 344v1M143.5 343v1M144.5 342v1M145.5 341v1M146.5 340v1M147.5 339v1M148.5 338v1M153.5 335v1M221.5 309v1M222.5 308v1M223.5 307v1M224.5 305v2M225.5 304v1M226.5 303v1M227.5 302v1M228.5 301v1M229.5 300v1M230.5 298v2M231.5 297v1M232.5 296v1M233.5 295v1M234.5 293v2M235.5 292v1M236.5 291v1M237.5 290v1M238.5 289v1M239.5 288v1M240.5 286v2M241.5 285v1M242.5 284v1M243.5 283v1M244.5 282v1M245.5 281v1M246.5 280v1M247.5 279v1M248.5 278v1M249.5 277v1M250.5 276v1M251.5 275v1M252.5 274v1M253.5 273v1M254.5 272v1M255.5 271v1M256.5 270v1M257.5 269v1M258.5 268v1M259.5 267v1M260.5 266v1M261.5 265v1M262.5 264v1M263.5 263v1M264.5 262v1M265.5 261v1M266.5 260v1M267.5 259v1M268.5 258v1M273.5 255v1M276.5 253v1M281.5 250v1M343.5 254v1M344.5 255v1M347.5 257v1M348.5 258v1M349.5 259v1M350.5 260v1M353.5 262v1M354.5 263v1M355.5 264v1M356.5 265v1M361.5 268v1M391.5 271v1M392.5 270v1M395.5 268v1M396.5 267v1M399.5 265v1M400.5 264v1M403.5 262v1M412.5 257v1M415.5 255v1M416.5 254v1M419.5 252v1M420.5 251v1M421.5 250v1M422.5 249v1M425.5 247v1M426.5 246v1M427.5 245v1M477.5 234v1M478.5 235v1M481.5 237v1M482.5 238v1M483.5 239v1M484.5 240v1M485.5 241v1M486.5 242v1M489.5 244v1M490.5 245v1M491.5 246v1M492.5 247v1M495.5 249v1M496.5 250v1M499.5 252v1M500.5 253v1M501.5 254v2M502.5 256v1M503.5 257v2M504.5 259v1M505.5 260v2M506.5 262v1M507.5 263v2M508.5 265v1M509.5 266v2M510.5 268v1M511.5 269v1M512.5 270v2M513.5 272v1M514.5 273v1M515.5 274v2M516.5 276v1M517.5 277v1M518.5 278v2M519.5 280v1M520.5 281v1M521.5 282v1M522.5 283v2M523.5 285v1M524.5 286v1M525.5 287v1M526.5 288v2M527.5 290v1M528.5 291v1M529.5 292v1M530.5 293v2M531.5 295v1M532.5 296v1M533.5 297v1M534.5 298v1M535.5 299v1M536.5 300v1M537.5 301v1M538.5 302v1M539.5 303v1M540.5 304v1M543.5 306v1M544.5 307v1M547.5 309v1M548.5 310v1M551.5 312v1M552.5 313v1M555.5 315v1M596.5 318v1M599.5 316v1M600.5 315v1M603.5 313v1M620.5 304v1M621.5 303v1M622.5 302v1M625.5 300v1M626.5 299v1M627.5 298v1M628.5 297v1M631.5 295v1M632.5 294v1M635.5 292v1M636.5 291v1M639.5 289v1M640.5 288v1M643.5 286v1M644.5 285v1M649.5 282v1M660.5 276v1M661.5 275v1M662.5 274v1M663.5 273v1M664.5 272v1M665.5 271v1M666.5 270v1M667.5 269v1M668.5 268v1M669.5 267v1M670.5 266v1M671.5 265v1M672.5 264v1M673.5 263v1M674.5 262v1M675.5 261v1M676.5 260v1M677.5 258v2M678.5 257v1M679.5 255v2M680.5 254v1M681.5 252v2M682.5 251v1M683.5 249v2M684.5 248v1M685.5 246v2M686.5 245v1M687.5 243v2M688.5 242v1M689.5 240v2M690.5 239v1M691.5 237v2M692.5 236v1M693.5 235v1M694.5 233v2M695.5 232v1M696.5 231v1M697.5 230v1M698.5 228v2M699.5 227v1M700.5 226v1M701.5 224v2M702.5 222v2M703.5 220v2M704.5 219v1M705.5 217v2M706.5 215v2M707.5 213v2M708.5 212v1M709.5 210v2M710.5 208v2M711.5 206v2M712.5 205v1M713.5 203v2M714.5 201v2M715.5 199v2M716.5 198v1M717.5 196v2M718.5 194v2M719.5 192v2M720.5 191v1M721.5 189v2M722.5 187v2M723.5 185v2M724.5 184v1M725.5 182v2M726.5 181v1M727.5 180v1M728.5 178v2M729.5 177v1M730.5 176v1M731.5 174v2M732.5 173v1M733.5 171v2M734.5 170v1M735.5 168v2M736.5 167v1M737.5 165v2M738.5 164v1M739.5 162v2M740.5 161v1M741.5 159v2M742.5 158v1M743.5 156v2M744.5 155v1M745.5 153v2M746.5 152v1M747.5 150v2M748.5 149v1M749.5 147v2M750.5 146v1M751.5 144v2M752.5 143v1M753.5 141v2M754.5 140v1M755.5 138v2M756.5 137v1M757.5 135v2M758.5 134v1M759.5 133v1M760.5 131v2M761.5 130v1M762.5 129v1M763.5 127v2M764.5 126v1M765.5 124v2M766.5 123v1M767.5 122v1M768.5 120v2M769.5 119v1M770.5 118v1M771.5 116v2M772.5 115v1M773.5 114v1M774.5 113v1M777.5 111v1M778.5 110v1M779.5 109v1M825.5 101v1M828.5 103v1M829.5 104v1M830.5 105v1M833.5 107v1M834.5 108v1M835.5 109v1M836.5 110v1M837.5 111v1M838.5 112v1M839.5 113v1M840.5 114v2M841.5 116v1M842.5 117v1M843.5 118v1M844.5 119v1M845.5 120v1M846.5 121v1M847.5 122v1M848.5 123v1M849.5 124v1M850.5 125v1M851.5 126v1M852.5 127v1M853.5 128v1M854.5 129v1M855.5 130v1M856.5 131v1M857.5 132v1M858.5 133v1M859.5 134v1M860.5 135v1M863.5 137v1M864.5 138v1M867.5 140v1M876.5 145v1M881.5 148v1M884.5 150v1M885.5 151v1M886.5 152v1M889.5 154v1M890.5 155v1M891.5 156v1M900.5 161v1M903.5 163v1M904.5 164v1M907.5 166v1M908.5 167v1M909.5 168v2M910.5 170v1M911.5 171v1M912.5 172v2M913.5 174v1M914.5 175v1M915.5 176v2M916.5 178v1M917.5 179v2M918.5 181v2M919.5 183v2M920.5 185v1M921.5 186v2M922.5 188v2M923.5 190v2M924.5 192v1M925.5 193v1M926.5 194v1M927.5 195v1M928.5 196v2M929.5 198v1M930.5 199v1M931.5 200v1M932.5 201v1M935.5 203v1M936.5 204v1M939.5 206v1M969.5 211v1M972.5 213v1M973.5 214v1M974.5 215v1M977.5 217v1M978.5 218v1M979.5 219v1M980.5 220v1M981.5 221v2M982.5 223v2M983.5 225v1M984.5 226v2M985.5 228v1M986.5 229v2M987.5 231v2M988.5 233v1M989.5 234v2M990.5 236v1M991.5 237v1M992.5 238v2M993.5 240v1M994.5 241v1M995.5 242v2M996.5 244v1M997.5 245v1M998.5 246v2M999.5 248v1M1000.5 249v1M1001.5 250v1M1002.5 251v2M1003.5 253v1M1004.5 254v1M1005.5 255v2M1006.5 257v2M1007.5 259v2M1008.5 261v1M1009.5 262v2M1010.5 264v2M1011.5 266v2M1012.5 268v1M1013.5 269v2M1014.5 271v2M1015.5 273v2M1016.5 275v2M1017.5 277v2M1018.5 279v2M1019.5 281v2M1020.5 283v1M1021.5 284v1M1022.5 285v1M1023.5 286v1M1024.5 287v2M1025.5 289v1M1026.5 290v1M1027.5 291v1M1028.5 292v1M1029.5 293v1M1030.5 294v1M1031.5 295v1M1032.5 296v2M1033.5 298v1M1034.5 299v1M1035.5 300v1M1036.5 301v1M1039.5 303v1M1040.5 304v1M1043.5 306v1M1044.5 307v1M1045.5 308v1M1046.5 309v1M1049.5 311v1M1050.5 312v1M1051.5 313v1M1052.5 314v1M1053.5 315v1M1054.5 316v1M1055.5 317v1M1056.5 318v2M1057.5 320v1M1058.5 321v1M1059.5 322v1M1060.5 323v1M1063.5 325v1M1064.5 326v1M1067.5 328v1M1068.5 329v1M1071.5 331v1M1072.5 332v1M1075.5 334v1M1101.5 336v1M1102.5 337v1M1103.5 338v1M1104.5 339v2M1105.5 341v1M1106.5 342v1M1107.5 343v1M1108.5 344v1M1109.5 345v1M1110.5 346v1M1111.5 347v1M1112.5 348v1M1113.5 349v1M1114.5 350v1M1115.5 351v1" fill="none" stroke="#ff0000" stroke-width="1"/>
<path d="M756 89.5h2M754 90.5h2M758 90.5h3M761 91.5h2M751 92.5h2M763 92.5h4M749 93.5h2M767 93.5h4M771 94.5h3M774 95.5h2M776 96.5h2M778 97.5h2M743 98.5h2M780 98.5h2M782 99.5h3M785 100.5h2M787 101.5h3M738 102.5h2M790 102.5h3M809 102.5h6M793 103.5h2M801 103.5h8M815 103.5h4M735 104.5h2M795 104.5h6M819 104.5h2M733 105.5h2M869 181.5h2M900 183.5h9M873 184.5h2M876 186.5h3M911 186.5h2M879 187.5h4M883 188.5h3M886 189.5h2M888 190.5h2M890 191.5h2M428 205.5h5M433 206.5h8M441 207.5h4M455 222.5h2M940 224.5h3M276 225.5h2M943 225.5h4M278 226.5h2M947 226.5h3M280 227.5h2M950 227.5h3M282 228.5h2M953 228.5h2M271 229.5h2M955 229.5h3M958 230.5h2M960 231.5h2M962 232.5h2M964 233.5h3M265 234.5h2M967 234.5h4M971 235.5h3M974 236.5h3M261 237.5h2M977 237.5h2M259 238.5h2M979 238.5h2M257 239.5h2M254 240.5h3M252 241.5h2M250 242.5h2M247 244.5h2M245 245.5h2M309 256.5h2M313 259.5h2M658 261.5h2M317 262.5h2M656 262.5h2M654 263.5h2M652 264.5h2M321 265.5h2M650 265.5h2M648 266.5h2M646 267.5h2M644 268.5h2M642 269.5h2M327 270.5h2M640 270.5h2M638 271.5h2M636 272.5h2M332 274.5h5M386 274.5h2M337 275.5h5M384 275.5h2M342 276.5h2M382 276.5h2M631 276.5h2M344 277.5h2M380 277.5h2M346 278.5h2M348 279.5h3M351 280.5h4M355 281.5h4M375 281.5h2M359 282.5h4M217 283.5h2M363 283.5h6M623 283.5h2M369 284.5h4M213 286.5h2M612 286.5h9M610 287.5h2M607 289.5h2M605 290.5h2M602 292.5h2M599 294.5h2M597 295.5h2M591 300.5h2M1099 306.5h2M583 307.5h2M1095 307.5h4M1092 308.5h3M578 311.5h2M575 313.5h2M573 314.5h2M108 319.5h5M113 320.5h4M117 321.5h2M119 322.5h2M122 324.5h2M124 325.5h2M126 326.5h2M561 326.5h2M128 327.5h2M130 328.5h2M132 329.5h2M557 329.5h2M134 330.5h3M555 330.5h2M137 331.5h2M551 331.5h4M139 332.5h2M548 332.5h3M141 333.5h2M175 333.5h2M546 333.5h2M143 334.5h2M543 335.5h2M146 336.5h2M171 336.5h2M541 336.5h2M148 337.5h5M169 337.5h2M525 337.5h2M153 338.5h8M166 338.5h3M538 338.5h2M161 339.5h5M529 340.5h2M535 340.5h2M533 341.5h2M1051 361.5h10M1049 362.5h2M1046 363.5h3M1036 364.5h10M7 441.5h2M12 445.5h2M14 446.5h2M16 447.5h2M18 448.5h2M20 449.5h2M22 450.5h2M24 451.5h2M26 452.5h2M29 454.5h2M33 457.5h2M4.5 438v1M5.5 439v1M6.5 440v1M9.5 442v1M10.5 443v1M11.5 444v1M28.5 453v1M31.5 455v1M32.5 456v1M35.5 458v1M36.5 459v1M37.5 457v2M38.5 456v1M39.5 454v2M40.5 453v1M41.5 451v2M42.5 450v1M43.5 448v2M44.5 447v1M45.5 445v2M46.5 444v1M47.5 443v1M48.5 441v2M49.5 440v1M50.5 439v1M51.5 437v2M52.5 435v2M53.5 431v4M54.5 428v3M55.5 424v4M56.5 421v3M57.5 417v4M58.5 414v3M59.5 410v4M60.5 408v2M61.5 406v2M62.5 404v2M63.5 402v2M64.5 401v1M65.5 399v2M66.5 397v2M67.5 395v2M68.5 393v2M69.5 391v2M70.5 389v2M71.5 387v2M72.5 385v2M73.5 383v2M74.5 381v2M75.5 379v2M76.5 377v2M77.5 375v2M78.5 372v3M79.5 369v3M80.5 367v2M81.5 364v3M82.5 361v3M83.5 359v2M84.5 356v3M85.5 354v2M86.5 351v3M87.5 349v2M88.5 346v3M89.5 344v2M90.5 341v3M91.5 339v2M92.5 337v2M93.5 336v1M94.5 334v2M95.5 333v1M96.5 332v1M97.5 331v1M98.5 329v2M99.5 328v1M100.5 327v1M101.5 326v1M102.5 325v1M103.5 324v1M104.5 323v1M105.5 322v1M106.5 321v1M107.5 320v1M121.5 323v1M145.5 335v1M173.5 335v1M174.5 334v1M177.5 332v1M178.5 331v1M179.5 330v1M180.5 329v1M181.5 327v2M182.5 326v1M183.5 325v1M184.5 323v2M185.5 322v1M186.5 321v1M187.5 319v2M188.5 318v1M189.5 316v2M190.5 315v1M191.5 313v2M192.5 312v1M193.5 310v2M194.5 309v1M195.5 307v2M196.5 306v1M197.5 304v2M198.5 303v1M199.5 302v1M200.5 300v2M201.5 299v1M202.5 298v1M203.5 296v2M204.5 295v1M205.5 294v1M206.5 293v1M207.5 292v1M208.5 291v1M209.5 290v1M210.5 289v1M211.5 288v1M212.5 287v1M215.5 285v1M216.5 284v1M219.5 282v1M220.5 281v1M221.5 280v1M222.5 278v2M223.5 277v1M224.5 276v1M225.5 275v1M226.5 273v2M227.5 272v1M228.5 271v1M229.5 269v2M230.5 267v2M231.5 266v1M232.5 264v2M233.5 263v1M234.5 261v2M235.5 259v2M236.5 258v1M237.5 256v2M238.5 255v1M239.5 253v2M240.5 252v1M241.5 250v2M242.5 249v1M243.5 247v2M244.5 246v1M249.5 243v1M263.5 236v1M264.5 235v1M267.5 233v1M268.5 232v1M269.5 231v1M270.5 230v1M273.5 228v1M274.5 227v1M275.5 226v1M284.5 229v1M285.5 230v1M286.5 231v1M287.5 232v1M288.5 233v1M289.5 234v1M290.5 235v1M291.5 236v1M292.5 237v1M293.5 238v1M294.5 239v2M295.5 241v1M296.5 242v1M297.5 243v1M298.5 244v2M299.5 246v1M300.5 247v1M301.5 248v1M302.5 249v1M303.5 250v1M304.5 251v1M305.5 252v1M306.5 253v1M307.5 254v1M308.5 255v1M311.5 257v1M312.5 258v1M315.5 260v1M316.5 261v1M319.5 263v1M320.5 264v1M323.5 266v1M324.5 267v1M325.5 268v1M326.5 269v1M329.5 271v1M330.5 272v1M331.5 273v1M373.5 283v1M374.5 282v1M377.5 280v1M378.5 279v1M379.5 278v1M388.5 273v1M389.5 271v2M390.5 269v2M391.5 267v2M392.5 266v1M393.5 264v2M394.5 262v2M395.5 260v2M396.5 259v1M397.5 257v2M398.5 255v2M399.5 253v2M400.5 251v2M401.5 249v2M402.5 247v2M403.5 245v2M404.5 244v1M405.5 242v2M406.5 241v1M407.5 239v2M408.5 238v1M409.5 236v2M410.5 235v1M411.5 233v2M412.5 232v1M413.5 230v2M414.5 228v2M415.5 226v2M416.5 224v2M417.5 222v2M418.5 220v2M419.5 218v2M420.5 217v1M421.5 215v2M422.5 214v1M423.5 212v2M424.5 211v1M425.5 209v2M426.5 208v1M427.5 206v2M445.5 208v2M446.5 210v1M447.5 211v2M448.5 213v1M449.5 214v2M450.5 216v1M451.5 217v2M452.5 219v1M453.5 220v1M454.5 221v1M457.5 223v1M458.5 224v1M459.5 225v1M460.5 226v1M461.5 227v1M462.5 228v1M463.5 229v1M464.5 230v2M465.5 232v1M466.5 233v1M467.5 234v1M468.5 235v1M469.5 236v2M470.5 238v2M471.5 240v2M472.5 242v2M473.5 244v2M474.5 246v2M475.5 248v2M476.5 250v2M477.5 252v3M478.5 255v3M479.5 258v3M480.5 261v2M481.5 263v3M482.5 266v3M483.5 269v3M484.5 272v3M485.5 275v2M486.5 277v2M487.5 279v2M488.5 281v2M489.5 283v2M490.5 285v2M491.5 287v2M492.5 289v1M493.5 290v2M494.5 292v1M495.5 293v2M496.5 295v1M497.5 296v2M498.5 298v1M499.5 299v2M500.5 301v1M501.5 302v2M502.5 304v2M503.5 306v1M504.5 307v2M505.5 309v1M506.5 310v2M507.5 312v2M508.5 314v1M509.5 315v2M510.5 317v2M511.5 319v1M512.5 320v2M513.5 322v1M514.5 323v2M515.5 325v2M516.5 327v1M517.5 328v1M518.5 329v1M519.5 330v1M520.5 331v2M521.5 333v1M522.5 334v1M523.5 335v1M524.5 336v1M527.5 338v1M528.5 339v1M531.5 341v1M532.5 342v1M537.5 339v1M540.5 337v1M545.5 334v1M559.5 328v1M560.5 327v1M563.5 325v1M564.5 324v1M565.5 323v1M566.5 322v1M567.5 321v1M568.5 319v2M569.5 318v1M570.5 317v1M571.5 316v1M572.5 315v1M577.5 312v1M580.5 310v1M581.5 309v1M582.5 308v1M585.5 306v1M586.5 305v1M587.5 304v1M588.5 303v1M589.5 302v1M590.5 301v1M593.5 299v1M594.5 298v1M595.5 297v1M596.5 296v1M601.5 293v1M604.5 291v1M609.5 288v1M621.5 285v1M622.5 284v1M625.5 282v1M626.5 281v1M627.5 280v1M628.5 279v1M629.5 278v1M630.5 277v1M633.5 275v1M634.5 274v1M635.5 273v1M660.5 260v1M661.5 258v2M662.5 257v1M663.5 255v2M664.5 254v1M665.5 252v2M666.5 251v1M667.5 249v2M668.5 247v2M669.5 245v2M670.5 243v2M671.5 241v2M672.5 239v2M673.5 237v2M674.5 235v2M675.5 233v2M676.5 231v2M677.5 229v2M678.5 227v2M679.5 225v2M680.5 222v3M681.5 220v2M682.5 218v2M683.5 216v2M684.5 214v2M685.5 212v2M686.5 210v2M687.5 208v2M688.5 206v2M689.5 204v2M690.5 202v2M691.5 200v2M692.5 198v2M693.5 196v2M694.5 194v2M695.5 192v2M696.5 190v2M697.5 188v2M698.5 186v2M699.5 184v2M700.5 181v3M701.5 178v3M702.5 174v4M703.5 171v3M704.5 168v3M705.5 165v3M706.5 161v4M707.5 158v3M708.5 155v3M709.5 152v3M710.5 150v2M711.5 147v3M712.5 144v3M713.5 141v3M714.5 139v2M715.5 136v3M716.5 133v3M717.5 131v2M718.5 129v2M719.5 127v2M720.5 125v2M721.5 123v2M722.5 121v2M723.5 119v2M724.5 118v1M725.5 116v2M726.5 115v1M727.5 113v2M728.5 112v1M729.5 110v2M730.5 109v1M731.5 107v2M732.5 106v1M737.5 103v1M740.5 101v1M741.5 100v1M742.5 99v1M745.5 97v1M746.5 96v1M747.5 95v1M748.5 94v1M753.5 91v1M821.5 105v2M822.5 107v1M823.5 108v1M824.5 109v2M825.5 111v1M826.5 112v1M827.5 113v2M828.5 115v1M829.5 116v1M830.5 117v1M831.5 118v1M832.5 119v1M833.5 120v1M834.5 121v1M835.5 122v1M836.5 123v1M837.5 124v2M838.5 126v2M839.5 128v1M840.5 129v2M841.5 131v1M842.5 132v2M843.5 134v2M844.5 136v1M845.5 137v2M846.5 139v1M847.5 140v2M848.5 142v1M849.5 143v2M850.5 145v1M851.5 146v2M852.5 148v2M853.5 150v2M854.5 152v2M855.5 154v2M856.5 156v2M857.5 158v2M858.5 160v2M859.5 162v2M860.5 164v2M861.5 166v2M862.5 168v2M863.5 170v2M864.5 172v2M865.5 174v2M866.5 176v2M867.5 178v2M868.5 180v1M871.5 182v1M872.5 183v1M875.5 185v1M892.5 192v1M893.5 191v1M894.5 190v1M895.5 189v1M896.5 187v2M897.5 186v1M898.5 185v1M899.5 184v1M909.5 184v1M910.5 185v1M913.5 187v1M914.5 188v1M915.5 189v1M916.5 190v1M917.5 191v2M918.5 193v1M919.5 194v2M920.5 196v1M921.5 197v2M922.5 199v1M923.5 200v2M924.5 202v1M925.5 203v2M926.5 205v1M927.5 206v1M928.5 207v2M929.5 209v1M930.5 210v1M931.5 211v2M932.5 213v1M933.5 214v2M934.5 216v1M935.5 217v1M936.5 218v2M937.5 220v1M938.5 221v1M939.5 222v2M981.5 239v2M982.5 241v1M983.5 242v2M984.5 244v1M985.5 245v2M986.5 247v1M987.5 248v2M988.5 250v1M989.5 251v2M990.5 253v2M991.5 255v2M992.5 257v1M993.5 258v2M994.5 260v2M995.5 262v2M996.5 264v2M997.5 266v2M998.5 268v2M999.5 270v3M1000.5 273v2M1001.5 275v3M1002.5 278v2M1003.5 280v2M1004.5 282v3M1005.5 285v3M1006.5 288v2M1007.5 290v3M1008.5 293v3M1009.5 296v3M1010.5 299v2M1011.5 301v3M1012.5 304v3M1013.5 307v4M1014.5 311v4M1015.5 315v3M1016.5 318v4M1017.5 322v3M1018.5 325v4M1019.5 329v4M1020.5 333v2M1021.5 335v2M1022.5 337v2M1023.5 339v2M1024.5 341v2M1025.5 343v2M1026.5 345v2M1027.5 347v2M1028.5 349v1M1029.5 350v2M1030.5 352v2M1031.5 354v2M1032.5 356v2M1033.5 358v2M1034.5 360v2M1035.5 362v2M1061.5 360v1M1062.5 359v1M1063.5 358v1M1064.5 356v2M1065.5 355v1M1066.5 354v1M1067.5 353v1M1068.5 351v2M1069.5 349v2M1070.5 347v2M1071.5 345v2M1072.5 343v2M1073.5 341v2M1074.5 339v2M1075.5 337v2M1076.5 336v1M1077.5 334v2M1078.5 332v2M1079.5 330v2M1080.5 329v1M1081.5 327v2M1082.5 325v2M1083.5 323v2M1084.5 322v1M1085.5 320v2M1086.5 318v2M1087.5 316v2M1088.5 315v1M1089.5 313v2M1090.5 311v2M1091.5 309v2M1100.5 307v1M1101.5 308v2M1102.5 310v2M1103.5 312v2M1104.5 314v2M1105.5 316v2M1106.5 318v2M1107.5 320v2M1108.5 322v3M1109.5 325v2M1110.5 327v2M1111.5 329v3M1112.5 332v2M1113.5 334v3M1114.5 337v2M1115.5 339v2M1116.5 341v1" fill="none" stroke="#0000cd" stroke-width="1"/>
<rect x="918" y="265" width="344" height="4" fill="#fa3030"/>
<rect x="918" y="381" width="346" height="5" fill="#99cc00"/>
</g>
<polygon points="7,30 14,30 10.5,34" fill="#000"/>
<text x="18.5" y="35" font-size="9.4" fill="#000" stroke="#000" stroke-width="0.18" textLength="69" lengthAdjust="spacingAndGlyphs">USDCHF-,Daily</text>
<text x="92.5" y="35" font-size="9.4" fill="#000" stroke="#000" stroke-width="0.18" textLength="142" lengthAdjust="spacingAndGlyphs">0.98107 0.98158 0.98069 0.98105</text>
<g id="paxis">
<rect x="1420" y="31" width="2" height="1" fill="#000"/>
<text x="1425.5" y="35" font-size="9.4" fill="#000" stroke="#000" stroke-width="0.18" textLength="33" lengthAdjust="spacingAndGlyphs">1.02560</text>
<rect x="1420" y="64" width="2" height="1" fill="#000"/>
<text x="1425.5" y="68" font-size="9.4" fill="#000" stroke="#000" stroke-width="0.18" textLength="33" lengthAdjust="spacingAndGlyphs">1.02220</text>
<rect x="1420" y="97" width="2" height="1" fill="#000"/>
<text x="1425.5" y="101" font-size="9.4" fill="#000" stroke="#000" stroke-width="0.18" textLength="33" lengthAdjust="spacingAndGlyphs">1.01870</text>
<rect x="1420" y="130" width="2" height="1" fill="#000"/>
<text x="1425.5" y="134" font-size="9.4" fill="#000" stroke="#000" stroke-width="0.18" textLength="33" lengthAdjust="spacingAndGlyphs">1.01530</text>
<rect x="1420" y="163" width="2" height="1" fill="#000"/>
<text x="1425.5" y="167" font-size="9.4" fill="#000" stroke="#000" stroke-width="0.18" textLength="33" lengthAdjust="spacingAndGlyphs">1.01180</text>
<rect x="1420" y="196" width="2" height="1" fill="#000"/>
<text x="1425.5" y="200" font-size="9.4" fill="#000" stroke="#000" stroke-width="0.18" textLength="33" lengthAdjust="spacingAndGlyphs">1.00840</text>
<rect x="1420" y="229" width="2" height="1" fill="#000"/>
<text x="1425.5" y="233" font-size="9.4" fill="#000" stroke="#000" stroke-width="0.18" textLength="33" lengthAdjust="spacingAndGlyphs">1.00490</text>
<rect x="1420" y="262" width="2" height="1" fill="#000"/>
<text x="1425.5" y="266" font-size="9.4" fill="#000" stroke="#000" stroke-width="0.18" textLength="33" lengthAdjust="spacingAndGlyphs">1.00150</text>
<rect x="1420" y="295" width="2" height="1" fill="#000"/>
<text x="1425.5" y="299" font-size="9.4" fill="#000" stroke="#000" stroke-width="0.18" textLength="33" lengthAdjust="spacingAndGlyphs">0.99800</text>
<rect x="1420" y="328" width="2" height="1" fill="#000"/>
<text x="1425.5" y="332" font-size="9.4" fill="#000" stroke="#000" stroke-width="0.18" textLength="33" lengthAdjust="spacingAndGlyphs">0.99460</text>
<rect x="1420" y="361" width="2" height="1" fill="#000"/>
<text x="1425.5" y="365" font-size="9.4" fill="#000" stroke="#000" stroke-width="0.18" textLength="33" lengthAdjust="spacingAndGlyphs">0.99110</text>
<rect x="1420" y="394" width="2" height="1" fill="#000"/>
<text x="1425.5" y="398" font-size="9.4" fill="#000" stroke="#000" stroke-width="0.18" textLength="33" lengthAdjust="spacingAndGlyphs">0.98770</text>
<rect x="1420" y="427" width="2" height="1" fill="#000"/>
<text x="1425.5" y="431" font-size="9.4" fill="#000" stroke="#000" stroke-width="0.18" textLength="33" lengthAdjust="spacingAndGlyphs">0.98420</text>
<rect x="1420" y="460" width="2" height="1" fill="#000"/>
<rect x="1420" y="493" width="2" height="1" fill="#000"/>
<text x="1425.5" y="497" font-size="9.4" fill="#000" stroke="#000" stroke-width="0.18" textLength="33" lengthAdjust="spacingAndGlyphs">0.97740</text>
<rect x="1420" y="526" width="2" height="1" fill="#000"/>
<text x="1425.5" y="530" font-size="9.4" fill="#000" stroke="#000" stroke-width="0.18" textLength="33" lengthAdjust="spacingAndGlyphs">0.97390</text>
<rect x="1420" y="559" width="2" height="1" fill="#000"/>
<text x="1425.5" y="563" font-size="9.4" fill="#000" stroke="#000" stroke-width="0.18" textLength="33" lengthAdjust="spacingAndGlyphs">0.97050</text>
<rect x="1421" y="453" width="41" height="11" fill="#000"/>
<text x="1425.5" y="462" font-size="9.4" fill="#fff" stroke="#fff" stroke-width="0.18" textLength="33" lengthAdjust="spacingAndGlyphs">0.98105</text>
</g>
<g id="macd" clip-path="url(#c2)">
<rect x="4" y="616" width="1" height="31" fill="#c0c0c0"/>
<rect x="12" y="616" width="1" height="28" fill="#c0c0c0"/>
<rect x="20" y="616" width="1" height="25" fill="#c0c0c0"/>
<rect x="28" y="616" width="1" height="23" fill="#c0c0c0"/>
<rect x="36" y="616" width="1" height="23" fill="#c0c0c0"/>
<rect x="44" y="616" width="1" height="19" fill="#c0c0c0"/>
<rect x="52" y="616" width="1" height="13" fill="#c0c0c0"/>
<rect x="60" y="616" width="1" height="6" fill="#c0c0c0"/>
<rect x="76" y="612" width="1" height="5" fill="#c0c0c0"/>
<rect x="84" y="606" width="1" height="11" fill="#c0c0c0"/>
<rect x="92" y="602" width="1" height="15" fill="#c0c0c0"/>
<rect x="100" y="601" width="1" height="16" fill="#c0c0c0"/>
<rect x="108" y="600" width="1" height="17" fill="#c0c0c0"/>
<rect x="116" y="601" width="1" height="16" fill="#c0c0c0"/>
<rect x="124" y="602" width="1" height="15" fill="#c0c0c0"/>
<rect x="132" y="604" width="1" height="13" fill="#c0c0c0"/>
<rect x="140" y="603" width="1" height="14" fill="#c0c0c0"/>
<rect x="148" y="603" width="1" height="14" fill="#c0c0c0"/>
<rect x="156" y="603" width="1" height="14" fill="#c0c0c0"/>
<rect x="164" y="603" width="1" height="14" fill="#c0c0c0"/>
<rect x="172" y="603" width="1" height="14" fill="#c0c0c0"/>
<rect x="180" y="602" width="1" height="15" fill="#c0c0c0"/>
<rect x="188" y="598" width="1" height="19" fill="#c0c0c0"/>
<rect x="196" y="595" width="1" height="22" fill="#c0c0c0"/>
<rect x="204" y="593" width="1" height="24" fill="#c0c0c0"/>
<rect x="212" y="593" width="1" height="24" fill="#c0c0c0"/>
<rect x="220" y="593" width="1" height="24" fill="#c0c0c0"/>
<rect x="228" y="591" width="1" height="26" fill="#c0c0c0"/>
<rect x="236" y="588" width="1" height="29" fill="#c0c0c0"/>
<rect x="244" y="584" width="1" height="33" fill="#c0c0c0"/>
<rect x="252" y="584" width="1" height="33" fill="#c0c0c0"/>
<rect x="260" y="585" width="1" height="32" fill="#c0c0c0"/>
<rect x="268" y="586" width="1" height="31" fill="#c0c0c0"/>
<rect x="276" y="587" width="1" height="30" fill="#c0c0c0"/>
<rect x="284" y="590" width="1" height="27" fill="#c0c0c0"/>
<rect x="292" y="594" width="1" height="23" fill="#c0c0c0"/>
<rect x="300" y="596" width="1" height="21" fill="#c0c0c0"/>
<rect x="308" y="599" width="1" height="18" fill="#c0c0c0"/>
<rect x="316" y="602" width="1" height="15" fill="#c0c0c0"/>
<rect x="324" y="604" width="1" height="13" fill="#c0c0c0"/>
<rect x="332" y="606" width="1" height="11" fill="#c0c0c0"/>
<rect x="340" y="607" width="1" height="10" fill="#c0c0c0"/>
<rect x="348" y="610" width="1" height="7" fill="#c0c0c0"/>
<rect x="356" y="611" width="1" height="6" fill="#c0c0c0"/>
<rect x="364" y="613" width="1" height="4" fill="#c0c0c0"/>
<rect x="372" y="614" width="1" height="3" fill="#c0c0c0"/>
<rect x="380" y="611" width="1" height="6" fill="#c0c0c0"/>
<rect x="388" y="608" width="1" height="9" fill="#c0c0c0"/>
<rect x="396" y="603" width="1" height="14" fill="#c0c0c0"/>
<rect x="404" y="601" width="1" height="16" fill="#c0c0c0"/>
<rect x="412" y="599" width="1" height="18" fill="#c0c0c0"/>
<rect x="420" y="596" width="1" height="21" fill="#c0c0c0"/>
<rect x="428" y="596" width="1" height="21" fill="#c0c0c0"/>
<rect x="436" y="599" width="1" height="18" fill="#c0c0c0"/>
<rect x="444" y="602" width="1" height="15" fill="#c0c0c0"/>
<rect x="452" y="604" width="1" height="13" fill="#c0c0c0"/>
<rect x="460" y="606" width="1" height="11" fill="#c0c0c0"/>
<rect x="468" y="609" width="1" height="8" fill="#c0c0c0"/>
<rect x="476" y="613" width="1" height="4" fill="#c0c0c0"/>
<rect x="484" y="616" width="1" height="4" fill="#c0c0c0"/>
<rect x="492" y="616" width="1" height="10" fill="#c0c0c0"/>
<rect x="500" y="616" width="1" height="13" fill="#c0c0c0"/>
<rect x="508" y="616" width="1" height="15" fill="#c0c0c0"/>
<rect x="516" y="616" width="1" height="18" fill="#c0c0c0"/>
<rect x="524" y="616" width="1" height="19" fill="#c0c0c0"/>
<rect x="532" y="616" width="1" height="19" fill="#c0c0c0"/>
<rect x="540" y="616" width="1" height="18" fill="#c0c0c0"/>
<rect x="548" y="616" width="1" height="17" fill="#c0c0c0"/>
<rect x="556" y="616" width="1" height="15" fill="#c0c0c0"/>
<rect x="564" y="616" width="1" height="13" fill="#c0c0c0"/>
<rect x="572" y="616" width="1" height="11" fill="#c0c0c0"/>
<rect x="580" y="616" width="1" height="10" fill="#c0c0c0"/>
<rect x="588" y="616" width="1" height="7" fill="#c0c0c0"/>
<rect x="596" y="616" width="1" height="5" fill="#c0c0c0"/>
<rect x="604" y="616" width="1" height="3" fill="#c0c0c0"/>
<rect x="612" y="616" width="1" height="2" fill="#c0c0c0"/>
<rect x="620" y="616" width="1" height="1" fill="#c0c0c0"/>
<rect x="628" y="615" width="1" height="2" fill="#c0c0c0"/>
<rect x="636" y="613" width="1" height="4" fill="#c0c0c0"/>
<rect x="644" y="611" width="1" height="6" fill="#c0c0c0"/>
<rect x="652" y="610" width="1" height="7" fill="#c0c0c0"/>
<rect x="660" y="608" width="1" height="9" fill="#c0c0c0"/>
<rect x="668" y="604" width="1" height="13" fill="#c0c0c0"/>
<rect x="676" y="600" width="1" height="17" fill="#c0c0c0"/>
<rect x="684" y="593" width="1" height="24" fill="#c0c0c0"/>
<rect x="692" y="589" width="1" height="28" fill="#c0c0c0"/>
<rect x="700" y="585" width="1" height="32" fill="#c0c0c0"/>
<rect x="708" y="579" width="1" height="38" fill="#c0c0c0"/>
<rect x="716" y="575" width="1" height="42" fill="#c0c0c0"/>
<rect x="724" y="572" width="1" height="45" fill="#c0c0c0"/>
<rect x="732" y="571" width="1" height="46" fill="#c0c0c0"/>
<rect x="740" y="571" width="1" height="46" fill="#c0c0c0"/>
<rect x="748" y="571" width="1" height="46" fill="#c0c0c0"/>
<rect x="756" y="572" width="1" height="45" fill="#c0c0c0"/>
<rect x="764" y="574" width="1" height="43" fill="#c0c0c0"/>
<rect x="772" y="575" width="1" height="42" fill="#c0c0c0"/>
<rect x="780" y="578" width="1" height="39" fill="#c0c0c0"/>
<rect x="788" y="581" width="1" height="36" fill="#c0c0c0"/>
<rect x="796" y="583" width="1" height="34" fill="#c0c0c0"/>
<rect x="804" y="584" width="1" height="33" fill="#c0c0c0"/>
<rect x="812" y="584" width="1" height="33" fill="#c0c0c0"/>
<rect x="820" y="588" width="1" height="29" fill="#c0c0c0"/>
<rect x="828" y="594" width="1" height="23" fill="#c0c0c0"/>
<rect x="836" y="599" width="1" height="18" fill="#c0c0c0"/>
<rect x="844" y="607" width="1" height="10" fill="#c0c0c0"/>
<rect x="852" y="612" width="1" height="5" fill="#c0c0c0"/>
<rect x="860" y="615" width="1" height="2" fill="#c0c0c0"/>
<rect x="876" y="616" width="1" height="1" fill="#c0c0c0"/>
<rect x="884" y="616" width="1" height="2" fill="#c0c0c0"/>
<rect x="892" y="616" width="1" height="4" fill="#c0c0c0"/>
<rect x="900" y="616" width="1" height="4" fill="#c0c0c0"/>
<rect x="908" y="616" width="1" height="5" fill="#c0c0c0"/>
<rect x="916" y="616" width="1" height="10" fill="#c0c0c0"/>
<rect x="924" y="616" width="1" height="14" fill="#c0c0c0"/>
<rect x="932" y="616" width="1" height="18" fill="#c0c0c0"/>
<rect x="940" y="616" width="1" height="19" fill="#c0c0c0"/>
<rect x="948" y="616" width="1" height="17" fill="#c0c0c0"/>
<rect x="956" y="616" width="1" height="15" fill="#c0c0c0"/>
<rect x="964" y="616" width="1" height="13" fill="#c0c0c0"/>
<rect x="972" y="616" width="1" height="14" fill="#c0c0c0"/>
<rect x="980" y="616" width="1" height="20" fill="#c0c0c0"/>
<rect x="988" y="616" width="1" height="27" fill="#c0c0c0"/>
<rect x="996" y="616" width="1" height="32" fill="#c0c0c0"/>
<rect x="1004" y="616" width="1" height="35" fill="#c0c0c0"/>
<rect x="1012" y="616" width="1" height="38" fill="#c0c0c0"/>
<rect x="1020" y="616" width="1" height="43" fill="#c0c0c0"/>
<rect x="1028" y="616" width="1" height="45" fill="#c0c0c0"/>
<rect x="1036" y="616" width="1" height="45" fill="#c0c0c0"/>
<rect x="1044" y="616" width="1" height="44" fill="#c0c0c0"/>
<rect x="1052" y="616" width="1" height="41" fill="#c0c0c0"/>
<rect x="1060" y="616" width="1" height="38" fill="#c0c0c0"/>
<rect x="1068" y="616" width="1" height="32" fill="#c0c0c0"/>
<rect x="1076" y="616" width="1" height="28" fill="#c0c0c0"/>
<rect x="1084" y="616" width="1" height="24" fill="#c0c0c0"/>
<rect x="1092" y="616" width="1" height="19" fill="#c0c0c0"/>
<rect x="1100" y="616" width="1" height="20" fill="#c0c0c0"/>
<rect x="1108" y="616" width="1" height="29" fill="#c0c0c0"/>
<rect x="1116" y="616" width="1" height="35" fill="#c0c0c0"/>
<path d="M778 572.5h3M772 573.5h3M785 573.5h2M790 573.5h3M760 574.5h3M766 574.5h3M796 574.5h3M754 575.5h2M803 576.5h2M809 577.5h2M748 578.5h2M815 578.5h2M820 579.5h3M742 580.5h3M827 581.5h2M737 582.5h2M833 583.5h2M730 585.5h2M838 585.5h3M268 587.5h3M274 587.5h3M280 587.5h3M286 587.5h3M292 587.5h3M298 587.5h3M304 587.5h2M262 588.5h3M724 588.5h2M845 588.5h2M256 589.5h3M310 589.5h3M251 590.5h2M316 590.5h3M719 591.5h2M850 591.5h2M244 592.5h3M323 592.5h2M238 593.5h3M328 593.5h3M856 593.5h3M233 594.5h2M334 595.5h3M712 595.5h2M862 595.5h2M226 596.5h3M220 597.5h3M340 597.5h2M707 597.5h2M202 598.5h3M208 598.5h3M214 598.5h3M868 598.5h2M196 599.5h3M191 600.5h2M347 600.5h2M449 600.5h2M454 600.5h3M460 600.5h3M466 600.5h3M700 600.5h2M148 601.5h3M154 601.5h3M160 601.5h3M166 601.5h3M172 601.5h3M178 601.5h3M184 601.5h3M353 601.5h2M442 601.5h3M473 601.5h2M874 601.5h2M142 602.5h3M359 602.5h2M436 602.5h3M479 602.5h2M136 603.5h3M364 603.5h2M431 603.5h2M484 603.5h2M694 603.5h2M131 604.5h2M425 604.5h2M419 605.5h2M689 605.5h2M124 606.5h3M371 606.5h2M490 606.5h2M377 607.5h2M382 607.5h3M412 607.5h3M683 607.5h2M118 608.5h3M388 608.5h3M394 608.5h3M400 608.5h3M406 608.5h3M886 608.5h3M497 609.5h2M676 610.5h2M892 610.5h2M112 611.5h2M502 611.5h2M671 611.5h2M664 613.5h3M899 613.5h2M106 614.5h2M508 614.5h2M659 614.5h2M905 615.5h2M652 616.5h3M101 617.5h2M514 617.5h2M647 617.5h2M911 617.5h2M641 618.5h2M916 618.5h3M635 619.5h2M521 620.5h2M923 620.5h2M94 621.5h2M628 621.5h3M929 621.5h2M526 622.5h3M622 622.5h3M934 622.5h3M617 623.5h2M532 624.5h2M940 624.5h3M611 625.5h2M947 626.5h2M83 627.5h2M538 627.5h2M604 627.5h3M953 627.5h2M598 628.5h3M959 628.5h2M592 629.5h3M964 629.5h3M76 630.5h2M545 630.5h2M587 630.5h2M970 630.5h3M550 631.5h3M977 631.5h2M556 632.5h3M562 632.5h3M568 632.5h3M574 632.5h3M580 632.5h3M982 632.5h3M71 633.5h2M988 634.5h3M64 636.5h3M995 636.5h2M59 637.5h2M1001 637.5h2M1006 638.5h3M4 640.5h3M52 640.5h2M1012 640.5h2M10 641.5h3M16 641.5h3M22 641.5h3M28 641.5h3M34 641.5h3M40 641.5h3M46 641.5h3M1019 643.5h2M1025 645.5h2M1114 646.5h2M1030 647.5h2M1108 647.5h3M1103 648.5h2M1036 650.5h2M1096 650.5h3M1091 651.5h2M1043 653.5h2M1049 654.5h2M1078 654.5h3M1084 654.5h2M1055 655.5h2M1072 655.5h3M1060 656.5h3M1066 656.5h3M54.5 639v1M58.5 638v1M70.5 634v1M78.5 629v1M82.5 628v1M88.5 625v1M89.5 624v1M90.5 623v1M96.5 620v1M100.5 618v1M108.5 613v1M114.5 610v1M130.5 605v1M190.5 601v1M232.5 595v1M250.5 591v1M306.5 588v1M322.5 591v1M342.5 598v1M346.5 599v1M352.5 600v1M358.5 601v1M366.5 604v1M370.5 605v1M376.5 606v1M418.5 606v1M424.5 605v1M430.5 604v1M448.5 601v1M472.5 600v1M478.5 601v1M486.5 604v1M492.5 607v1M496.5 608v1M504.5 612v1M510.5 615v1M516.5 618v1M520.5 619v1M534.5 625v1M540.5 628v1M544.5 629v1M586.5 631v1M610.5 626v1M616.5 624v1M634.5 620v1M640.5 619v1M646.5 618v1M658.5 615v1M670.5 612v1M678.5 609v1M682.5 608v1M688.5 606v1M696.5 602v1M702.5 599v1M706.5 598v1M714.5 594v1M718.5 592v1M726.5 587v1M732.5 584v1M736.5 583v1M750.5 577v1M756.5 574v1M784.5 572v1M802.5 575v1M808.5 576v1M814.5 577v1M826.5 580v1M832.5 582v1M844.5 587v1M852.5 592v1M864.5 596v1M870.5 599v1M876.5 602v1M880.5 604v1M881.5 605v1M882.5 606v1M894.5 611v1M898.5 612v1M904.5 614v1M910.5 616v1M922.5 619v1M928.5 620v1M946.5 625v1M952.5 626v1M958.5 627v1M976.5 630v1M994.5 635v1M1000.5 636v1M1014.5 641v1M1018.5 642v1M1024.5 644v1M1032.5 648v1M1038.5 651v1M1042.5 652v1M1048.5 653v1M1054.5 654v1M1086.5 653v1M1090.5 652v1M1102.5 649v1" fill="none" stroke="#ff0000" stroke-width="1"/>
</g>
<text x="8.5" y="577" font-size="9.4" fill="#000" stroke="#000" stroke-width="0.18" textLength="154" lengthAdjust="spacingAndGlyphs">MACD(12,26,9) -0.004239 -0.003569</text>
<g id="maxis">
<rect x="1420" y="566" width="1" height="1" fill="#000"/>
<text x="1422.5" y="575" font-size="9.4" fill="#000" stroke="#000" stroke-width="0.18" textLength="39" lengthAdjust="spacingAndGlyphs">0.006058</text>
<rect x="1420" y="616" width="1" height="1" fill="#000"/>
<text x="1422.5" y="620" font-size="9.4" fill="#000" stroke="#000" stroke-width="0.18" textLength="19" lengthAdjust="spacingAndGlyphs">0.00</text>
<rect x="1420" y="666" width="1" height="1" fill="#000"/>
<text x="1422.5" y="664" font-size="9.4" fill="#000" stroke="#000" stroke-width="0.18" textLength="43" lengthAdjust="spacingAndGlyphs">-0.006096</text>
</g>
<g id="rsi" clip-path="url(#c3)">
<line x1="4" y1="709.5" x2="1419" y2="709.5" stroke="#c0c0c0" stroke-width="1" stroke-dasharray="3 3" stroke-dashoffset="5"/>
<line x1="4" y1="760.5" x2="1419" y2="760.5" stroke="#c0c0c0" stroke-width="1" stroke-dasharray="3 3" stroke-dashoffset="5"/>
<path d="M713 695.5h5M708 696.5h5M718 696.5h3M721 697.5h2M705 698.5h2M723 698.5h3M684 699.5h2M726 699.5h3M686 700.5h2M729 700.5h2M745 700.5h6M681 701.5h2M688 701.5h2M701 701.5h2M731 701.5h14M751 701.5h4M690 702.5h2M697 702.5h4M755 702.5h2M692 703.5h5M677 704.5h2M242 708.5h2M771 708.5h2M240 709.5h2M671 709.5h2M769 709.5h2M238 710.5h2M766 710.5h3M236 711.5h2M764 711.5h2M811 711.5h2M234 712.5h2M807 712.5h4M232 713.5h2M804 713.5h3M196 714.5h9M230 714.5h2M802 714.5h2M194 715.5h2M228 715.5h2M192 716.5h2M418 716.5h2M780 716.5h2M799 716.5h2M190 717.5h2M207 717.5h2M416 717.5h2M782 717.5h2M797 717.5h2M188 718.5h2M414 718.5h2M784 718.5h2M795 718.5h2M186 719.5h2M252 719.5h13M409 719.5h5M786 719.5h2M791 719.5h4M184 720.5h2M265 720.5h12M404 720.5h5M788 720.5h3M182 721.5h2M212 721.5h2M380 721.5h5M658 721.5h2M81 722.5h13M180 722.5h2M214 722.5h3M385 722.5h4M635 722.5h12M656 722.5h2M73 723.5h8M94 723.5h2M178 723.5h2M217 723.5h2M631 723.5h4M647 723.5h4M654 723.5h2M60 724.5h13M96 724.5h2M176 724.5h2M219 724.5h2M628 724.5h3M651 724.5h3M58 725.5h2M98 725.5h2M105 725.5h4M174 725.5h2M56 726.5h2M100 726.5h5M109 726.5h2M163 726.5h11M54 727.5h2M111 727.5h2M140 727.5h3M161 727.5h2M52 728.5h2M138 728.5h2M143 728.5h4M158 728.5h3M623 728.5h2M50 729.5h2M114 729.5h2M147 729.5h11M284 729.5h2M601 729.5h5M48 730.5h2M116 730.5h5M135 730.5h2M286 730.5h3M588 730.5h13M606 730.5h3M46 731.5h2M121 731.5h8M133 731.5h2M289 731.5h2M297 731.5h6M339 731.5h2M564 731.5h2M609 731.5h2M617 731.5h4M44 732.5h2M129 732.5h4M291 732.5h6M303 732.5h4M337 732.5h2M566 732.5h2M611 732.5h6M307 733.5h22M334 733.5h3M436 733.5h10M568 733.5h2M1090 733.5h2M329 734.5h5M446 734.5h3M570 734.5h2M583 734.5h2M1088 734.5h2M356 735.5h3M371 735.5h2M449 735.5h2M572 735.5h3M1068 735.5h13M1086 735.5h2M359 736.5h4M367 736.5h4M451 736.5h11M575 736.5h4M955 736.5h3M1081 736.5h5M363 737.5h4M462 737.5h3M579 737.5h2M875 737.5h6M901 737.5h2M953 737.5h2M958 737.5h3M12 738.5h18M465 738.5h2M871 738.5h4M881 738.5h4M903 738.5h2M950 738.5h3M961 738.5h2M30 739.5h2M351 739.5h2M467 739.5h2M829 739.5h2M868 739.5h3M885 739.5h2M948 739.5h2M963 739.5h2M32 740.5h2M469 740.5h2M831 740.5h2M866 740.5h2M887 740.5h2M895 740.5h2M906 740.5h2M34 741.5h2M471 741.5h2M547 741.5h4M545 742.5h2M551 742.5h4M834 742.5h2M863 742.5h2M890 742.5h2M474 743.5h2M542 743.5h3M555 743.5h2M852 743.5h5M861 743.5h2M537 744.5h5M857 744.5h4M1052 744.5h3M531 745.5h6M1055 745.5h4M527 746.5h4M1049 746.5h2M1059 746.5h2M524 747.5h3M500 748.5h5M522 748.5h2M505 749.5h5M1045 749.5h2M510 750.5h3M519 750.5h2M937 750.5h2M513 751.5h2M517 751.5h2M972 751.5h3M495 752.5h2M515 752.5h2M916 752.5h2M975 752.5h4M918 753.5h3M933 753.5h2M979 753.5h2M921 754.5h2M929 754.5h4M491 755.5h2M923 755.5h6M489 756.5h2M486 757.5h3M484 758.5h2M1004 758.5h2M1028 758.5h9M1002 759.5h2M1006 759.5h3M1108 759.5h8M1000 760.5h2M1009 760.5h2M988 761.5h5M998 761.5h2M1011 761.5h2M993 762.5h5M1013 762.5h2M1015 763.5h2M1018 765.5h2M4.5 754v2M5.5 752v2M6.5 750v2M7.5 748v2M8.5 746v2M9.5 744v2M10.5 742v2M11.5 740v2M12.5 739v1M36.5 742v1M37.5 741v1M38.5 739v2M39.5 738v1M40.5 737v1M41.5 736v1M42.5 734v2M43.5 733v1M113.5 728v1M137.5 729v1M205.5 715v1M206.5 716v1M209.5 718v1M210.5 719v1M211.5 720v1M221.5 723v1M222.5 722v1M223.5 721v1M224.5 719v2M225.5 718v1M226.5 717v1M227.5 716v1M244.5 707v1M245.5 708v2M246.5 710v1M247.5 711v2M248.5 713v1M249.5 714v2M250.5 716v1M251.5 717v2M277.5 721v1M278.5 722v1M279.5 723v1M280.5 724v2M281.5 726v1M282.5 727v1M283.5 728v1M341.5 732v2M342.5 734v1M343.5 735v1M344.5 736v2M345.5 738v1M346.5 739v1M347.5 740v2M348.5 742v1M349.5 741v1M350.5 740v1M353.5 738v1M354.5 737v1M355.5 736v1M373.5 733v2M374.5 731v2M375.5 729v2M376.5 728v1M377.5 726v2M378.5 724v2M379.5 722v2M389.5 720v2M390.5 719v1M391.5 717v2M392.5 716v1M393.5 714v2M394.5 713v1M395.5 711v2M396.5 710v1M397.5 711v1M398.5 712v2M399.5 714v1M400.5 715v1M401.5 716v1M402.5 717v2M403.5 719v1M420.5 715v1M421.5 716v1M422.5 717v1M423.5 718v1M424.5 719v2M425.5 721v1M426.5 722v1M427.5 723v1M428.5 724v1M429.5 725v1M430.5 726v1M431.5 727v1M432.5 728v2M433.5 730v1M434.5 731v1M435.5 732v1M473.5 742v1M476.5 744v1M477.5 745v2M478.5 747v2M479.5 749v2M480.5 751v1M481.5 752v2M482.5 754v2M483.5 756v2M493.5 754v1M494.5 753v1M497.5 751v1M498.5 750v1M499.5 749v1M521.5 749v1M557.5 741v2M558.5 740v1M559.5 738v2M560.5 737v1M561.5 735v2M562.5 734v1M563.5 732v2M581.5 736v1M582.5 735v1M585.5 733v1M586.5 732v1M587.5 731v1M621.5 730v1M622.5 729v1M625.5 727v1M626.5 726v1M627.5 725v1M660.5 720v1M661.5 719v1M662.5 718v1M663.5 717v1M664.5 716v1M665.5 715v1M666.5 714v1M667.5 713v1M668.5 712v1M669.5 711v1M670.5 710v1M673.5 708v1M674.5 707v1M675.5 706v1M676.5 705v1M679.5 703v1M680.5 702v1M683.5 700v1M703.5 700v1M704.5 699v1M707.5 697v1M757.5 703v1M758.5 704v1M759.5 705v1M760.5 706v2M761.5 708v1M762.5 709v1M763.5 710v1M773.5 709v1M774.5 710v1M775.5 711v1M776.5 712v1M777.5 713v1M778.5 714v1M779.5 715v1M801.5 715v1M812.5 712v1M813.5 713v2M814.5 715v2M815.5 717v2M816.5 719v3M817.5 722v2M818.5 724v2M819.5 726v2M820.5 728v2M821.5 730v1M822.5 731v1M823.5 732v1M824.5 733v2M825.5 735v1M826.5 736v1M827.5 737v1M828.5 738v1M833.5 741v1M836.5 743v1M837.5 744v2M838.5 746v1M839.5 747v1M840.5 748v2M841.5 750v1M842.5 751v1M843.5 752v2M844.5 754v1M845.5 752v2M846.5 751v1M847.5 750v1M848.5 748v2M849.5 747v1M850.5 746v1M851.5 744v2M865.5 741v1M889.5 741v1M892.5 743v1M893.5 742v1M894.5 741v1M897.5 739v1M898.5 738v1M899.5 737v1M900.5 736v1M905.5 739v1M908.5 741v1M909.5 742v2M910.5 744v1M911.5 745v1M912.5 746v2M913.5 748v1M914.5 749v1M915.5 750v2M935.5 752v1M936.5 751v1M939.5 749v1M940.5 748v1M941.5 747v1M942.5 746v1M943.5 745v1M944.5 743v2M945.5 742v1M946.5 741v1M947.5 740v1M965.5 740v2M966.5 742v1M967.5 743v2M968.5 745v1M969.5 746v2M970.5 748v1M971.5 749v2M981.5 754v1M982.5 755v1M983.5 756v1M984.5 757v1M985.5 758v1M986.5 759v1M987.5 760v1M1017.5 764v1M1020.5 766v1M1021.5 765v1M1022.5 764v1M1023.5 763v1M1024.5 762v1M1025.5 761v1M1026.5 760v1M1027.5 759v1M1037.5 757v1M1038.5 756v1M1039.5 755v1M1040.5 754v1M1041.5 753v1M1042.5 752v1M1043.5 751v1M1044.5 750v1M1047.5 748v1M1048.5 747v1M1051.5 745v1M1061.5 744v2M1062.5 743v1M1063.5 742v1M1064.5 740v2M1065.5 739v1M1066.5 738v1M1067.5 736v2M1092.5 732v1M1093.5 733v2M1094.5 735v2M1095.5 737v2M1096.5 739v1M1097.5 740v2M1098.5 742v2M1099.5 744v2M1100.5 746v1M1101.5 747v2M1102.5 749v2M1103.5 751v1M1104.5 752v2M1105.5 754v1M1106.5 755v2M1107.5 757v2" fill="none" stroke="#1e90ff" stroke-width="1"/>
</g>
<text x="8.5" y="682" font-size="9.4" fill="#000" stroke="#000" stroke-width="0.18" textLength="68" lengthAdjust="spacingAndGlyphs">RSI(14) 30.9019</text>
<g id="raxis">
<rect x="1420" y="671" width="1" height="1" fill="#000"/>
<text x="1422.5" y="680" font-size="9.4" fill="#000" stroke="#000" stroke-width="0.18" textLength="16" lengthAdjust="spacingAndGlyphs">100</text>
<rect x="1420" y="709" width="1" height="1" fill="#000"/>
<text x="1422.5" y="713" font-size="9.4" fill="#000" stroke="#000" stroke-width="0.18" textLength="10.5" lengthAdjust="spacingAndGlyphs">70</text>
<rect x="1420" y="760" width="1" height="1" fill="#000"/>
<text x="1422.5" y="764" font-size="9.4" fill="#000" stroke="#000" stroke-width="0.18" textLength="10.5" lengthAdjust="spacingAndGlyphs">30</text>
<rect x="1420" y="798" width="1" height="1" fill="#000"/>
<text x="1422.5" y="796" font-size="9.4" fill="#000" stroke="#000" stroke-width="0.18" textLength="5.5" lengthAdjust="spacingAndGlyphs">0</text>
</g>
<g id="daxis">
<rect x="4" y="800" width="1" height="3" fill="#000"/>
<text x="2.5" y="812" font-size="9.4" fill="#000" stroke="#000" stroke-width="0.18" textLength="45.8" lengthAdjust="spacingAndGlyphs">9 Jan 2019</text>
<rect x="68" y="800" width="1" height="3" fill="#000"/>
<text x="66.5" y="812" font-size="9.4" fill="#000" stroke="#000" stroke-width="0.18" textLength="50.8" lengthAdjust="spacingAndGlyphs">18 Jan 2019</text>
<rect x="132" y="800" width="1" height="3" fill="#000"/>
<text x="130.5" y="812" font-size="9.4" fill="#000" stroke="#000" stroke-width="0.18" textLength="50.8" lengthAdjust="spacingAndGlyphs">28 Jan 2019</text>
<rect x="196" y="800" width="1" height="3" fill="#000"/>
<text x="194.5" y="812" font-size="9.4" fill="#000" stroke="#000" stroke-width="0.18" textLength="46.55" lengthAdjust="spacingAndGlyphs">6 Feb 2019</text>
<rect x="260" y="800" width="1" height="3" fill="#000"/>
<text x="258.5" y="812" font-size="9.4" fill="#000" stroke="#000" stroke-width="0.18" textLength="51.55" lengthAdjust="spacingAndGlyphs">15 Feb 2019</text>
<rect x="324" y="800" width="1" height="3" fill="#000"/>
<text x="322.5" y="812" font-size="9.4" fill="#000" stroke="#000" stroke-width="0.18" textLength="51.55" lengthAdjust="spacingAndGlyphs">25 Feb 2019</text>
<rect x="388" y="800" width="1" height="3" fill="#000"/>
<text x="386.5" y="812" font-size="9.4" fill="#000" stroke="#000" stroke-width="0.18" textLength="47.55" lengthAdjust="spacingAndGlyphs">6 Mar 2019</text>
<rect x="452" y="800" width="1" height="3" fill="#000"/>
<text x="450.5" y="812" font-size="9.4" fill="#000" stroke="#000" stroke-width="0.18" textLength="52.55" lengthAdjust="spacingAndGlyphs">15 Mar 2019</text>
<rect x="516" y="800" width="1" height="3" fill="#000"/>
<text x="514.5" y="812" font-size="9.4" fill="#000" stroke="#000" stroke-width="0.18" textLength="52.55" lengthAdjust="spacingAndGlyphs">25 Mar 2019</text>
<rect x="580" y="800" width="1" height="3" fill="#000"/>
<text x="578.5" y="812" font-size="9.4" fill="#000" stroke="#000" stroke-width="0.18" textLength="46.3" lengthAdjust="spacingAndGlyphs">3 Apr 2019</text>
<rect x="644" y="800" width="1" height="3" fill="#000"/>
<text x="642.5" y="812" font-size="9.4" fill="#000" stroke="#000" stroke-width="0.18" textLength="51.3" lengthAdjust="spacingAndGlyphs">12 Apr 2019</text>
<rect x="708" y="800" width="1" height="3" fill="#000"/>
<text x="706.5" y="812" font-size="9.4" fill="#000" stroke="#000" stroke-width="0.18" textLength="51.3" lengthAdjust="spacingAndGlyphs">23 Apr 2019</text>
<rect x="772" y="800" width="1" height="3" fill="#000"/>
<text x="770.5" y="812" font-size="9.4" fill="#000" stroke="#000" stroke-width="0.18" textLength="50.3" lengthAdjust="spacingAndGlyphs">2 May 2019</text>
<rect x="836" y="800" width="1" height="3" fill="#000"/>
<text x="834.5" y="812" font-size="9.4" fill="#000" stroke="#000" stroke-width="0.18" textLength="55.3" lengthAdjust="spacingAndGlyphs">12 May 2019</text>
<rect x="900" y="800" width="1" height="3" fill="#000"/>
<text x="898.5" y="812" font-size="9.4" fill="#000" stroke="#000" stroke-width="0.18" textLength="55.3" lengthAdjust="spacingAndGlyphs">21 May 2019</text>
<rect x="964" y="800" width="1" height="3" fill="#000"/>
<text x="962.5" y="812" font-size="9.4" fill="#000" stroke="#000" stroke-width="0.18" textLength="55.3" lengthAdjust="spacingAndGlyphs">30 May 2019</text>
<rect x="1028" y="800" width="1" height="3" fill="#000"/>
<text x="1026.5" y="812" font-size="9.4" fill="#000" stroke="#000" stroke-width="0.18" textLength="45.3" lengthAdjust="spacingAndGlyphs">9 Jun 2019</text>
<rect x="1092" y="800" width="1" height="3" fill="#000"/>
<text x="1090.5" y="812" font-size="9.4" fill="#000" stroke="#000" stroke-width="0.18" textLength="50.3" lengthAdjust="spacingAndGlyphs">18 Jun 2019</text>
</g>
<g id="tabs">
<rect x="0" y="820" width="1464" height="1" fill="#e3e3e3"/>
<rect x="0" y="821" width="1464" height="1" fill="#fff"/>
<rect x="0" y="823" width="1464" height="19" fill="#f0f0f0"/>
<rect x="0" y="822" width="1464" height="1" fill="#000"/>
<rect x="1" y="823" width="1463" height="1" fill="#fff"/>
<rect x="0" y="823" width="1" height="19" fill="#696969"/>
<rect x="1" y="823" width="1" height="19" fill="#fff"/>
<rect x="221" y="821" width="108" height="20" fill="#fff"/>
<rect x="221" y="822" width="1" height="19" fill="#000"/>
<rect x="328" y="822" width="1" height="19" fill="#000"/>
<rect x="221" y="840" width="108" height="1" fill="#000"/>
<rect x="222" y="841" width="108" height="1" fill="#a0a0a0"/>
<rect x="329" y="823" width="1" height="18" fill="#a0a0a0"/>
<text x="16.2" y="836.8" font-size="11.5" fill="#6a6a6a" stroke="#6a6a6a" stroke-width="0" textLength="85" lengthAdjust="spacingAndGlyphs">EURUSD-,Daily</text>
<text x="122.8" y="836.8" font-size="11.5" fill="#6a6a6a" stroke="#6a6a6a" stroke-width="0" textLength="87.5" lengthAdjust="spacingAndGlyphs">AUDUSD-,Daily</text>
<text x="233.3" y="836.8" font-size="11.5" fill="#000" stroke="#000" stroke-width="0" textLength="84" lengthAdjust="spacingAndGlyphs">USDCHF-,Daily</text>
<text x="339.7" y="836.8" font-size="11.5" fill="#6a6a6a" stroke="#6a6a6a" stroke-width="0" textLength="86.5" lengthAdjust="spacingAndGlyphs">USDCAD-,Daily</text>
<text x="448.8" y="836.8" font-size="11.5" fill="#6a6a6a" stroke="#6a6a6a" stroke-width="0" textLength="88.5" lengthAdjust="spacingAndGlyphs">USDCNH-,Daily</text>
<text x="559.5" y="836.8" font-size="11.5" fill="#6a6a6a" stroke="#6a6a6a" stroke-width="0" textLength="98" lengthAdjust="spacingAndGlyphs">EURCHF-,Weekly</text>
<rect x="113" y="825" width="1" height="14" fill="#808080"/>
<rect x="437" y="825" width="1" height="14" fill="#808080"/>
<rect x="549" y="825" width="1" height="14" fill="#808080"/>
<rect x="669" y="825" width="1" height="14" fill="#808080"/>
<polygon points="1439,828 1439,835 1435,831.5" fill="#a0a0a0"/>
<polygon points="1454,828 1454,835 1458,831.5" fill="#a0a0a0"/>
</g>
</svg></body></html>
